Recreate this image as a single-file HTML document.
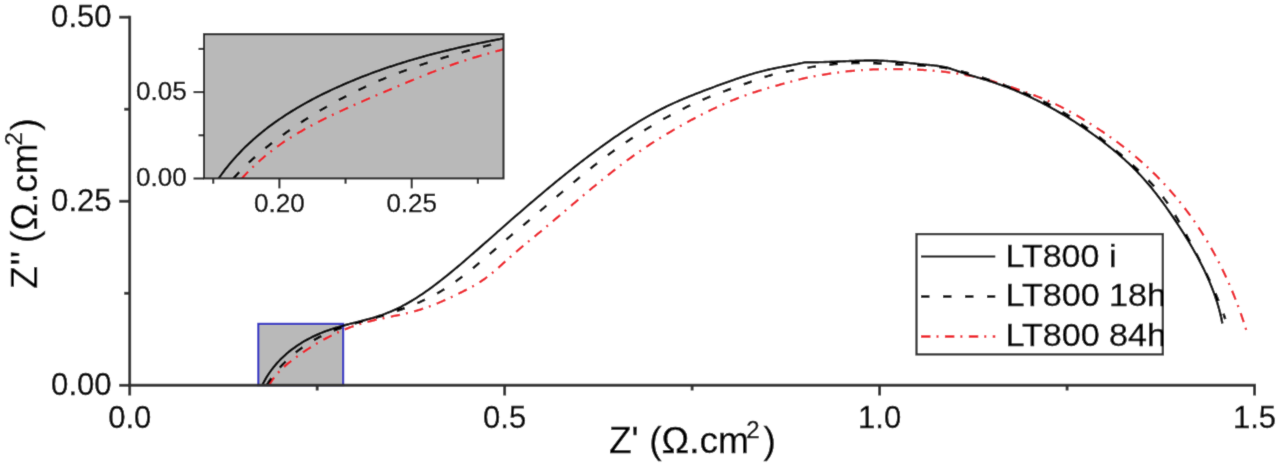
<!DOCTYPE html>
<html><head><meta charset="utf-8"><title>Impedance plot</title>
<style>html,body{margin:0;padding:0;background:#fff;}body{width:1280px;height:464px;overflow:hidden;}svg{display:block;}</style>
</head><body>
<svg width="1280" height="464" viewBox="0 0 1280 464">
<defs>
<filter id="bl" x="0" y="0" width="1280" height="464" filterUnits="userSpaceOnUse"><feConvolveMatrix order="3" kernelMatrix="0.0114 0.0841 0.0114 0.0841 0.6178 0.0841 0.0114 0.0841 0.0114" divisor="1" edgeMode="duplicate" preserveAlpha="true"/></filter>
<clipPath id="ic"><rect x="204.0" y="34.2" width="299.5" height="144.2"/></clipPath>
<clipPath id="mc"><rect x="129.7" y="0" width="1150" height="385.3"/></clipPath>
</defs>
<g filter="url(#bl)">
<rect x="0" y="0" width="1280" height="464" fill="#fff"/>
<!-- blue zoom box -->
<rect x="258.31" y="323.82" width="84.88" height="61.48" fill="#b9b9b9" stroke="#2f2fc4" stroke-width="2.1"/>
<!-- main curves -->
<g fill="none" stroke-linejoin="round" clip-path="url(#mc)">
<path d="M269.03 385.44 C269.29 384.99 270.05 383.63 270.58 382.75 C271.12 381.88 271.67 381.02 272.25 380.19 C272.82 379.35 273.41 378.53 274.01 377.73 C274.62 376.93 275.24 376.14 275.88 375.37 C276.51 374.60 277.16 373.85 277.83 373.11 C278.49 372.37 279.17 371.65 279.86 370.94 C280.55 370.22 281.26 369.53 281.97 368.84 C282.68 368.15 283.41 367.48 284.15 366.81 C284.88 366.15 285.63 365.49 286.38 364.85 C287.14 364.20 287.90 363.57 288.68 362.94 C289.45 362.31 290.23 361.69 291.01 361.08 C291.80 360.47 292.59 359.86 293.39 359.26 C294.19 358.66 294.99 358.07 295.80 357.48 C296.61 356.89 297.42 356.30 298.24 355.72 C299.05 355.13 299.87 354.55 300.69 353.98 C301.52 353.40 302.34 352.83 303.17 352.26 C304.00 351.70 304.84 351.13 305.67 350.57 C306.51 350.02 307.35 349.46 308.20 348.91 C309.04 348.36 309.89 347.82 310.74 347.28 C311.59 346.74 312.44 346.20 313.30 345.67 C314.16 345.14 315.02 344.62 315.88 344.10 C316.75 343.58 317.61 343.06 318.48 342.55 C319.35 342.04 320.23 341.54 321.10 341.04 C321.98 340.54 322.86 340.05 323.74 339.57 C324.63 339.08 325.51 338.60 326.40 338.13 C327.29 337.65 328.18 337.18 329.07 336.72 C329.97 336.26 330.87 335.81 331.77 335.36 C332.67 334.91 333.57 334.47 334.47 334.03 C335.38 333.60 336.29 333.17 337.20 332.75 C338.11 332.33 339.02 331.92 339.94 331.51 C340.85 331.11 341.77 330.71 342.69 330.32 C343.62 329.93 344.54 329.54 345.47 329.17 C346.39 328.79 347.32 328.42 348.25 328.07 C349.18 327.71 350.12 327.36 351.05 327.01 C351.99 326.67 352.93 326.34 353.87 326.01 C354.81 325.68 355.75 325.37 356.69 325.06 C357.64 324.75 358.59 324.45 359.54 324.16 C360.48 323.87 361.44 323.59 362.39 323.31 C363.34 323.04 364.30 322.77 365.25 322.51 C366.21 322.25 367.17 322.00 368.13 321.75 C369.09 321.51 370.05 321.27 371.01 321.03 C371.98 320.80 372.94 320.57 373.91 320.34 C374.87 320.11 375.84 319.89 376.81 319.68 C377.77 319.46 378.74 319.25 379.71 319.03 C380.68 318.82 381.65 318.61 382.63 318.41 C383.60 318.20 384.57 318.00 385.54 317.79 C386.52 317.59 387.49 317.39 388.46 317.19 C389.44 316.98 390.41 316.78 391.39 316.58 C392.36 316.38 393.34 316.18 394.31 315.97 C395.29 315.77 396.26 315.56 397.24 315.36 C398.21 315.15 399.19 314.94 400.16 314.73 C401.14 314.51 402.11 314.30 403.09 314.08 C404.06 313.86 405.04 313.63 406.01 313.41 C406.98 313.18 407.96 312.94 408.93 312.71 C409.90 312.47 410.87 312.22 411.84 311.97 C412.81 311.72 413.78 311.47 414.75 311.20 C415.72 310.94 416.69 310.67 417.65 310.39 C418.62 310.11 419.59 309.82 420.55 309.53 C421.51 309.23 422.48 308.93 423.44 308.61 C424.40 308.30 425.36 307.97 426.32 307.64 C427.27 307.30 428.23 306.96 429.18 306.61 C430.14 306.26 431.09 305.89 432.04 305.53 C432.99 305.16 433.94 304.78 434.89 304.40 C435.83 304.01 436.78 303.62 437.72 303.23 C438.66 302.83 439.60 302.43 440.54 302.02 C441.47 301.61 442.41 301.20 443.34 300.78 C444.27 300.37 445.20 299.95 446.13 299.52 C447.05 299.10 447.98 298.67 448.90 298.24 C449.82 297.81 450.73 297.38 451.65 296.94 C452.56 296.51 453.47 296.07 454.38 295.64 C455.29 295.20 456.19 294.76 457.10 294.33 C458.00 293.89 458.89 293.46 459.79 293.02 C460.68 292.58 461.57 292.15 462.46 291.71 C463.34 291.27 464.23 290.84 465.11 290.39 C465.98 289.95 466.86 289.51 467.73 289.06 C468.60 288.61 469.47 288.15 470.33 287.69 C471.19 287.23 472.05 286.76 472.90 286.28 C473.75 285.81 474.60 285.32 475.45 284.82 C476.29 284.33 477.13 283.82 477.97 283.30 C478.80 282.79 479.63 282.26 480.46 281.71 C481.28 281.17 482.10 280.61 482.92 280.05 C483.73 279.48 484.54 278.90 485.35 278.31 C486.15 277.73 486.95 277.13 487.75 276.52 C488.54 275.92 489.33 275.30 490.12 274.67 C490.91 274.05 491.69 273.42 492.46 272.78 C493.24 272.14 494.01 271.50 494.77 270.84 C495.54 270.19 496.30 269.54 497.06 268.87 C497.81 268.21 498.56 267.55 499.31 266.88 C500.05 266.21 500.79 265.53 501.53 264.86 C502.27 264.18 503.01 263.51 503.74 262.83 C504.48 262.15 505.21 261.47 505.95 260.80 C506.69 260.12 507.43 259.45 508.18 258.78 C508.92 258.11 509.67 257.44 510.42 256.77 C511.18 256.10 511.93 255.44 512.69 254.78 C513.45 254.12 514.22 253.46 514.98 252.80 C515.75 252.15 516.52 251.49 517.29 250.84 C518.06 250.18 518.84 249.53 519.61 248.88 C520.39 248.23 521.16 247.59 521.94 246.94 C522.72 246.29 523.50 245.65 524.28 245.00 C525.06 244.36 525.84 243.71 526.63 243.07 C527.41 242.43 528.19 241.78 528.97 241.14 C529.75 240.50 530.54 239.86 531.32 239.22 C532.10 238.58 532.88 237.94 533.66 237.29 C534.44 236.65 535.22 236.01 535.99 235.37 C536.77 234.73 537.55 234.09 538.32 233.44 C539.10 232.80 539.87 232.16 540.64 231.52 C541.41 230.87 542.18 230.23 542.95 229.59 C543.72 228.94 544.49 228.30 545.25 227.66 C546.02 227.01 546.79 226.37 547.55 225.73 C548.32 225.08 549.08 224.44 549.84 223.80 C550.61 223.15 551.37 222.51 552.13 221.86 C552.89 221.22 553.65 220.58 554.41 219.93 C555.17 219.29 555.93 218.64 556.69 218.00 C557.45 217.35 558.21 216.71 558.97 216.07 C559.73 215.42 560.48 214.78 561.24 214.13 C562.00 213.49 562.76 212.85 563.51 212.20 C564.27 211.56 565.03 210.92 565.78 210.27 C566.54 209.63 567.29 208.99 568.05 208.34 C568.81 207.70 569.56 207.06 570.32 206.41 C571.07 205.77 571.83 205.13 572.59 204.49 C573.34 203.84 574.10 203.20 574.86 202.56 C575.61 201.92 576.37 201.28 577.13 200.64 C577.89 199.99 578.64 199.35 579.40 198.71 C580.16 198.07 580.92 197.43 581.68 196.79 C582.44 196.15 583.20 195.51 583.96 194.87 C584.72 194.24 585.48 193.60 586.24 192.96 C587.00 192.32 587.77 191.68 588.53 191.05 C589.29 190.41 590.06 189.77 590.82 189.14 C591.59 188.50 592.35 187.87 593.12 187.23 C593.89 186.60 594.66 185.96 595.43 185.33 C596.20 184.69 596.97 184.06 597.74 183.43 C598.51 182.79 599.28 182.16 600.06 181.53 C600.83 180.90 601.61 180.27 602.39 179.64 C603.17 179.01 603.94 178.38 604.73 177.75 C605.51 177.12 606.29 176.49 607.07 175.87 C607.86 175.24 608.64 174.61 609.43 173.99 C610.22 173.36 611.00 172.74 611.79 172.11 C612.59 171.49 613.38 170.87 614.17 170.25 C614.97 169.63 615.76 169.01 616.56 168.39 C617.36 167.77 618.15 167.15 618.95 166.54 C619.76 165.92 620.56 165.31 621.36 164.70 C622.17 164.09 622.97 163.48 623.78 162.87 C624.58 162.26 625.39 161.66 626.20 161.05 C627.01 160.45 627.83 159.85 628.64 159.25 C629.45 158.65 630.27 158.06 631.08 157.46 C631.90 156.87 632.72 156.28 633.54 155.69 C634.36 155.10 635.18 154.52 636.00 153.94 C636.83 153.35 637.65 152.78 638.48 152.20 C639.30 151.62 640.13 151.05 640.96 150.48 C641.79 149.91 642.62 149.34 643.45 148.78 C644.28 148.22 645.12 147.66 645.95 147.10 C646.79 146.54 647.63 145.98 648.46 145.43 C649.30 144.88 650.14 144.33 650.98 143.78 C651.83 143.23 652.67 142.69 653.51 142.15 C654.36 141.61 655.20 141.07 656.05 140.53 C656.90 139.99 657.75 139.46 658.60 138.93 C659.45 138.40 660.30 137.87 661.15 137.34 C662.01 136.81 662.86 136.29 663.72 135.77 C664.58 135.25 665.43 134.73 666.29 134.21 C667.15 133.70 668.01 133.18 668.87 132.67 C669.74 132.16 670.60 131.65 671.47 131.14 C672.33 130.63 673.20 130.13 674.06 129.63 C674.93 129.12 675.80 128.62 676.67 128.12 C677.54 127.63 678.41 127.13 679.29 126.63 C680.16 126.14 681.04 125.65 681.91 125.16 C682.79 124.67 683.67 124.18 684.55 123.69 C685.42 123.21 686.30 122.72 687.19 122.24 C688.07 121.76 688.95 121.28 689.84 120.80 C690.72 120.32 691.61 119.85 692.49 119.37 C693.38 118.90 694.27 118.43 695.16 117.96 C696.05 117.49 696.94 117.03 697.83 116.56 C698.72 116.10 699.62 115.64 700.51 115.18 C701.41 114.72 702.31 114.26 703.20 113.81 C704.10 113.35 705.00 112.90 705.90 112.46 C706.80 112.01 707.70 111.56 708.61 111.12 C709.51 110.68 710.41 110.24 711.32 109.80 C712.22 109.37 713.13 108.94 714.04 108.51 C714.95 108.08 715.86 107.65 716.77 107.23 C717.68 106.81 718.59 106.39 719.50 105.97 C720.42 105.56 721.33 105.14 722.24 104.74 C723.16 104.33 724.08 103.92 725.00 103.52 C725.91 103.12 726.83 102.72 727.75 102.33 C728.67 101.94 729.60 101.55 730.52 101.16 C731.44 100.77 732.36 100.39 733.29 100.02 C734.22 99.64 735.14 99.27 736.07 98.90 C737.00 98.53 737.93 98.16 738.86 97.80 C739.79 97.44 740.72 97.09 741.65 96.74 C742.58 96.38 743.51 96.04 744.45 95.70 C745.38 95.35 746.32 95.02 747.26 94.68 C748.19 94.35 749.13 94.02 750.07 93.70 C751.01 93.38 751.95 93.06 752.89 92.75 C753.83 92.43 754.78 92.13 755.72 91.82 C756.66 91.52 757.61 91.22 758.55 90.92 C759.50 90.63 760.45 90.33 761.40 90.04 C762.34 89.75 763.29 89.47 764.24 89.18 C765.19 88.90 766.14 88.62 767.10 88.33 C768.05 88.05 769.00 87.78 769.96 87.50 C770.91 87.22 771.87 86.94 772.82 86.67 C773.78 86.39 774.74 86.12 775.70 85.84 C776.66 85.56 777.62 85.29 778.58 85.02 C779.54 84.74 780.50 84.47 781.46 84.20 C782.42 83.93 783.39 83.66 784.35 83.39 C785.32 83.12 786.28 82.85 787.25 82.59 C788.22 82.33 789.19 82.07 790.15 81.81 C791.12 81.55 792.09 81.30 793.06 81.05 C794.04 80.80 795.01 80.55 795.98 80.31 C796.95 80.07 797.93 79.83 798.90 79.59 C799.88 79.36 800.85 79.13 801.83 78.90 C802.80 78.68 803.78 78.45 804.76 78.24 C805.74 78.02 806.72 77.81 807.70 77.60 C808.68 77.39 809.66 77.18 810.64 76.98 C811.62 76.78 812.61 76.58 813.59 76.39 C814.57 76.20 815.56 76.01 816.54 75.83 C817.53 75.64 818.51 75.46 819.50 75.28 C820.48 75.11 821.47 74.94 822.46 74.77 C823.45 74.60 824.44 74.43 825.42 74.27 C826.41 74.11 827.40 73.96 828.39 73.80 C829.38 73.65 830.38 73.50 831.37 73.36 C832.36 73.21 833.35 73.07 834.34 72.94 C835.34 72.80 836.33 72.66 837.33 72.54 C838.32 72.41 839.31 72.28 840.31 72.16 C841.30 72.04 842.30 71.92 843.30 71.80 C844.29 71.69 845.29 71.58 846.29 71.47 C847.28 71.37 848.28 71.26 849.28 71.16 C850.28 71.06 851.27 70.97 852.27 70.88 C853.27 70.78 854.27 70.69 855.27 70.61 C856.27 70.52 857.27 70.44 858.27 70.37 C859.27 70.29 860.27 70.21 861.27 70.14 C862.27 70.07 863.27 70.01 864.27 69.94 C865.28 69.88 866.28 69.82 867.28 69.76 C868.28 69.70 869.28 69.65 870.29 69.60 C871.29 69.55 872.29 69.50 873.29 69.46 C874.30 69.42 875.30 69.38 876.30 69.34 C877.30 69.31 878.31 69.27 879.31 69.24 C880.31 69.21 881.32 69.19 882.32 69.17 C883.32 69.14 884.33 69.12 885.33 69.11 C886.34 69.09 887.34 69.08 888.34 69.07 C889.35 69.06 890.35 69.05 891.35 69.05 C892.36 69.04 893.36 69.04 894.36 69.04 C895.37 69.05 896.37 69.05 897.38 69.06 C898.38 69.07 899.38 69.08 900.39 69.10 C901.39 69.11 902.39 69.13 903.40 69.15 C904.40 69.17 905.40 69.20 906.40 69.23 C907.41 69.25 908.41 69.28 909.41 69.32 C910.41 69.35 911.42 69.39 912.42 69.43 C913.42 69.46 914.42 69.51 915.42 69.55 C916.43 69.60 917.43 69.65 918.43 69.70 C919.43 69.75 920.43 69.80 921.43 69.86 C922.43 69.92 923.43 69.98 924.43 70.04 C925.43 70.10 926.43 70.17 927.43 70.24 C928.43 70.31 929.43 70.39 930.43 70.46 C931.42 70.54 932.42 70.62 933.42 70.71 C934.42 70.79 935.41 70.88 936.41 70.97 C937.41 71.06 938.40 71.16 939.40 71.26 C940.39 71.36 941.39 71.46 942.38 71.57 C943.38 71.68 944.37 71.79 945.36 71.91 C946.36 72.02 947.35 72.14 948.34 72.27 C949.34 72.39 950.33 72.52 951.32 72.66 C952.31 72.79 953.30 72.93 954.29 73.07 C955.28 73.21 956.27 73.36 957.26 73.51 C958.25 73.66 959.23 73.82 960.22 73.98 C961.21 74.14 962.19 74.31 963.18 74.48 C964.16 74.65 965.15 74.82 966.13 75.00 C967.12 75.18 968.10 75.37 969.08 75.56 C970.07 75.75 971.05 75.95 972.03 76.15 C973.01 76.35 973.99 76.56 974.97 76.77 C975.95 76.98 976.93 77.20 977.90 77.42 C978.88 77.65 979.86 77.87 980.83 78.11 C981.81 78.34 982.78 78.58 983.76 78.83 C984.73 79.07 985.70 79.33 986.67 79.58 C987.65 79.84 988.62 80.10 989.59 80.37 C990.56 80.64 991.52 80.91 992.49 81.19 C993.46 81.46 994.43 81.74 995.39 82.03 C996.36 82.32 997.32 82.61 998.28 82.90 C999.25 83.20 1000.21 83.50 1001.17 83.80 C1002.13 84.10 1003.09 84.41 1004.05 84.72 C1005.01 85.02 1005.97 85.34 1006.92 85.65 C1007.88 85.97 1008.83 86.29 1009.79 86.61 C1010.74 86.93 1011.69 87.25 1012.65 87.58 C1013.60 87.91 1014.55 88.24 1015.50 88.57 C1016.44 88.90 1017.39 89.23 1018.34 89.56 C1019.28 89.90 1020.23 90.23 1021.17 90.57 C1022.12 90.91 1023.06 91.25 1024.00 91.59 C1024.94 91.93 1025.88 92.27 1026.82 92.61 C1027.75 92.95 1028.69 93.29 1029.63 93.63 C1030.56 93.97 1031.49 94.31 1032.43 94.66 C1033.36 95.00 1034.29 95.35 1035.22 95.69 C1036.15 96.04 1037.07 96.39 1038.00 96.74 C1038.93 97.10 1039.85 97.45 1040.77 97.81 C1041.70 98.18 1042.62 98.54 1043.54 98.91 C1044.46 99.28 1045.38 99.65 1046.29 100.04 C1047.21 100.42 1048.12 100.80 1049.04 101.20 C1049.95 101.59 1050.86 101.99 1051.77 102.40 C1052.68 102.81 1053.59 103.23 1054.49 103.65 C1055.40 104.08 1056.31 104.51 1057.21 104.95 C1058.11 105.39 1059.01 105.83 1059.91 106.29 C1060.81 106.74 1061.71 107.20 1062.60 107.66 C1063.50 108.13 1064.39 108.60 1065.28 109.07 C1066.18 109.55 1067.07 110.03 1067.95 110.51 C1068.84 111.00 1069.73 111.49 1070.61 111.98 C1071.50 112.48 1072.38 112.97 1073.26 113.48 C1074.14 113.98 1075.02 114.48 1075.89 114.99 C1076.77 115.50 1077.64 116.01 1078.52 116.53 C1079.39 117.04 1080.26 117.56 1081.13 118.08 C1082.00 118.60 1082.86 119.13 1083.73 119.66 C1084.59 120.18 1085.45 120.71 1086.31 121.25 C1087.17 121.78 1088.03 122.31 1088.89 122.85 C1089.74 123.39 1090.59 123.93 1091.45 124.47 C1092.30 125.01 1093.15 125.56 1093.99 126.10 C1094.84 126.65 1095.68 127.20 1096.53 127.75 C1097.37 128.30 1098.21 128.85 1099.05 129.40 C1099.89 129.96 1100.72 130.51 1101.55 131.07 C1102.39 131.63 1103.22 132.19 1104.05 132.76 C1104.88 133.32 1105.70 133.89 1106.53 134.46 C1107.35 135.02 1108.17 135.59 1108.99 136.17 C1109.81 136.74 1110.63 137.32 1111.44 137.90 C1112.25 138.48 1113.07 139.06 1113.87 139.64 C1114.68 140.23 1115.49 140.82 1116.29 141.41 C1117.10 142.00 1117.90 142.59 1118.70 143.19 C1119.50 143.78 1120.30 144.38 1121.09 144.99 C1121.88 145.59 1122.68 146.19 1123.46 146.80 C1124.25 147.41 1125.04 148.03 1125.82 148.64 C1126.61 149.26 1127.39 149.88 1128.17 150.50 C1128.94 151.12 1129.72 151.75 1130.49 152.38 C1131.27 153.01 1132.04 153.64 1132.80 154.28 C1133.57 154.91 1134.34 155.55 1135.10 156.20 C1135.86 156.84 1136.62 157.49 1137.38 158.14 C1138.13 158.79 1138.89 159.44 1139.64 160.10 C1140.39 160.76 1141.14 161.42 1141.88 162.08 C1142.63 162.75 1143.37 163.42 1144.11 164.09 C1144.85 164.76 1145.59 165.43 1146.32 166.11 C1147.05 166.79 1147.78 167.47 1148.51 168.16 C1149.24 168.84 1149.96 169.53 1150.69 170.22 C1151.41 170.91 1152.13 171.61 1152.84 172.30 C1153.56 173.00 1154.27 173.70 1154.98 174.41 C1155.69 175.11 1156.40 175.82 1157.10 176.53 C1157.80 177.24 1158.50 177.96 1159.20 178.67 C1159.90 179.39 1160.59 180.11 1161.28 180.83 C1161.98 181.56 1162.66 182.28 1163.35 183.01 C1164.03 183.74 1164.71 184.48 1165.39 185.21 C1166.07 185.95 1166.75 186.69 1167.42 187.43 C1168.09 188.17 1168.76 188.92 1169.42 189.66 C1170.09 190.41 1170.75 191.16 1171.41 191.92 C1172.07 192.67 1172.72 193.43 1173.38 194.19 C1174.03 194.95 1174.68 195.71 1175.32 196.48 C1175.97 197.24 1176.61 198.01 1177.25 198.78 C1177.89 199.55 1178.52 200.33 1179.16 201.11 C1179.79 201.88 1180.42 202.66 1181.04 203.45 C1181.67 204.23 1182.29 205.02 1182.90 205.80 C1183.52 206.59 1184.14 207.38 1184.75 208.18 C1185.36 208.97 1185.97 209.77 1186.57 210.57 C1187.17 211.37 1187.77 212.17 1188.37 212.97 C1188.97 213.78 1189.56 214.59 1190.15 215.40 C1190.74 216.21 1191.33 217.02 1191.91 217.84 C1192.49 218.65 1193.07 219.47 1193.64 220.29 C1194.22 221.11 1194.79 221.94 1195.36 222.76 C1195.92 223.59 1196.49 224.42 1197.05 225.25 C1197.61 226.08 1198.16 226.91 1198.72 227.75 C1199.27 228.58 1199.82 229.42 1200.36 230.26 C1200.91 231.10 1201.45 231.95 1201.99 232.79 C1202.53 233.64 1203.06 234.49 1203.59 235.34 C1204.12 236.19 1204.65 237.04 1205.17 237.89 C1205.70 238.75 1206.22 239.61 1206.73 240.46 C1207.25 241.32 1207.76 242.19 1208.27 243.05 C1208.78 243.91 1209.29 244.78 1209.79 245.65 C1210.29 246.51 1210.79 247.38 1211.28 248.26 C1211.78 249.13 1212.27 250.00 1212.76 250.88 C1213.25 251.76 1213.73 252.63 1214.21 253.51 C1214.69 254.39 1215.17 255.28 1215.64 256.16 C1216.12 257.04 1216.59 257.93 1217.05 258.82 C1217.52 259.71 1217.98 260.60 1218.44 261.49 C1218.90 262.38 1219.36 263.27 1219.81 264.17 C1220.26 265.06 1220.71 265.96 1221.16 266.86 C1221.60 267.76 1222.05 268.66 1222.49 269.56 C1222.92 270.46 1223.36 271.37 1223.79 272.27 C1224.22 273.18 1224.65 274.09 1225.08 274.99 C1225.50 275.90 1225.92 276.81 1226.34 277.72 C1226.76 278.64 1227.17 279.55 1227.59 280.47 C1228.00 281.38 1228.41 282.30 1228.81 283.21 C1229.21 284.13 1229.62 285.05 1230.01 285.97 C1230.41 286.89 1230.81 287.81 1231.20 288.74 C1231.59 289.66 1231.98 290.59 1232.36 291.51 C1232.74 292.44 1233.13 293.37 1233.50 294.29 C1233.88 295.22 1234.26 296.15 1234.63 297.08 C1235.00 298.02 1235.37 298.95 1235.73 299.88 C1236.09 300.81 1236.46 301.75 1236.81 302.69 C1237.17 303.62 1237.53 304.56 1237.88 305.50 C1238.23 306.43 1238.58 307.37 1238.92 308.31 C1239.27 309.25 1239.61 310.19 1239.95 311.14 C1240.28 312.08 1240.62 313.02 1240.95 313.96 C1241.28 314.91 1241.61 315.85 1241.94 316.80 C1242.26 317.74 1242.58 318.69 1242.90 319.64 C1243.22 320.59 1243.54 321.53 1243.85 322.48 C1244.16 323.43 1244.47 324.38 1244.78 325.33 C1245.08 326.28 1245.38 327.23 1245.68 328.18 C1245.98 329.14 1246.42 330.57 1246.57 331.04" stroke="#ee1c25" stroke-width="2.3" stroke-dasharray="9.5 6 2 6.4"/>
<path d="M266.65 385.21 C266.92 384.79 267.71 383.52 268.25 382.68 C268.80 381.84 269.36 381.01 269.92 380.19 C270.49 379.36 271.06 378.55 271.65 377.74 C272.23 376.93 272.83 376.12 273.43 375.33 C274.04 374.53 274.65 373.74 275.28 372.96 C275.90 372.18 276.53 371.41 277.17 370.64 C277.81 369.87 278.47 369.11 279.13 368.36 C279.78 367.61 280.45 366.87 281.13 366.13 C281.81 365.39 282.49 364.66 283.19 363.94 C283.88 363.22 284.58 362.51 285.29 361.80 C286.00 361.10 286.72 360.40 287.45 359.71 C288.17 359.02 288.91 358.34 289.65 357.67 C290.39 356.99 291.14 356.33 291.90 355.67 C292.66 355.02 293.42 354.37 294.19 353.73 C294.96 353.09 295.74 352.46 296.53 351.83 C297.32 351.21 298.11 350.60 298.91 349.99 C299.71 349.39 300.52 348.79 301.33 348.20 C302.14 347.62 302.96 347.04 303.79 346.47 C304.62 345.90 305.45 345.33 306.29 344.78 C307.13 344.23 307.97 343.69 308.82 343.15 C309.67 342.62 310.53 342.09 311.39 341.57 C312.25 341.06 313.11 340.55 313.99 340.05 C314.86 339.55 315.73 339.07 316.61 338.59 C317.50 338.11 318.38 337.63 319.27 337.17 C320.16 336.71 321.06 336.26 321.96 335.82 C322.86 335.37 323.76 334.94 324.67 334.51 C325.57 334.09 326.48 333.67 327.40 333.27 C328.31 332.86 329.23 332.46 330.15 332.07 C331.07 331.68 332.00 331.30 332.92 330.93 C333.85 330.56 334.78 330.19 335.72 329.84 C336.65 329.48 337.59 329.13 338.52 328.79 C339.46 328.45 340.40 328.11 341.35 327.79 C342.29 327.46 343.23 327.14 344.18 326.83 C345.13 326.52 346.08 326.21 347.03 325.91 C347.98 325.61 348.93 325.32 349.88 325.03 C350.84 324.74 351.79 324.46 352.75 324.18 C353.70 323.90 354.66 323.63 355.62 323.36 C356.58 323.09 357.54 322.82 358.50 322.55 C359.46 322.28 360.42 322.02 361.38 321.75 C362.34 321.49 363.30 321.23 364.27 320.97 C365.23 320.70 366.19 320.44 367.16 320.17 C368.12 319.91 369.08 319.65 370.05 319.38 C371.01 319.11 371.98 318.84 372.94 318.57 C373.91 318.29 374.87 318.02 375.83 317.74 C376.80 317.46 377.76 317.17 378.73 316.88 C379.69 316.59 380.65 316.30 381.62 316.00 C382.58 315.71 383.54 315.41 384.50 315.10 C385.46 314.80 386.42 314.49 387.38 314.18 C388.34 313.87 389.30 313.55 390.26 313.23 C391.22 312.91 392.17 312.59 393.13 312.27 C394.08 311.94 395.04 311.62 395.99 311.28 C396.94 310.95 397.89 310.62 398.84 310.28 C399.79 309.95 400.74 309.61 401.68 309.27 C402.63 308.92 403.57 308.58 404.52 308.23 C405.46 307.88 406.40 307.53 407.34 307.17 C408.27 306.81 409.21 306.45 410.14 306.09 C411.08 305.72 412.01 305.35 412.93 304.97 C413.86 304.60 414.79 304.22 415.71 303.83 C416.64 303.45 417.56 303.05 418.47 302.66 C419.39 302.26 420.31 301.85 421.22 301.44 C422.13 301.03 423.04 300.62 423.94 300.19 C424.85 299.77 425.75 299.34 426.65 298.90 C427.55 298.46 428.44 298.01 429.33 297.56 C430.23 297.11 431.11 296.65 432.00 296.18 C432.88 295.71 433.76 295.24 434.64 294.76 C435.52 294.28 436.39 293.79 437.26 293.30 C438.13 292.80 438.99 292.30 439.85 291.80 C440.71 291.29 441.57 290.78 442.42 290.26 C443.28 289.74 444.12 289.21 444.97 288.68 C445.81 288.15 446.65 287.61 447.48 287.07 C448.32 286.53 449.15 285.98 449.98 285.43 C450.80 284.87 451.63 284.31 452.44 283.75 C453.26 283.18 454.08 282.61 454.89 282.04 C455.70 281.46 456.51 280.89 457.32 280.30 C458.12 279.72 458.93 279.13 459.72 278.53 C460.52 277.94 461.32 277.34 462.12 276.74 C462.91 276.14 463.70 275.53 464.49 274.92 C465.28 274.31 466.07 273.70 466.85 273.08 C467.64 272.47 468.42 271.84 469.20 271.22 C469.98 270.59 470.76 269.97 471.54 269.33 C472.32 268.70 473.09 268.07 473.87 267.43 C474.65 266.79 475.42 266.15 476.19 265.51 C476.97 264.87 477.74 264.22 478.51 263.57 C479.28 262.92 480.05 262.27 480.82 261.62 C481.59 260.97 482.36 260.31 483.13 259.66 C483.90 259.00 484.67 258.34 485.44 257.68 C486.21 257.02 486.98 256.36 487.74 255.69 C488.51 255.03 489.28 254.37 490.05 253.70 C490.81 253.04 491.58 252.37 492.35 251.71 C493.11 251.04 493.88 250.38 494.64 249.71 C495.41 249.05 496.17 248.38 496.94 247.71 C497.70 247.05 498.46 246.38 499.23 245.72 C499.99 245.06 500.75 244.39 501.52 243.73 C502.28 243.07 503.04 242.41 503.80 241.75 C504.56 241.09 505.33 240.43 506.09 239.77 C506.85 239.11 507.61 238.46 508.37 237.81 C509.13 237.15 509.89 236.50 510.65 235.86 C511.41 235.21 512.17 234.56 512.93 233.92 C513.69 233.28 514.45 232.64 515.21 232.00 C515.97 231.36 516.72 230.73 517.48 230.09 C518.24 229.46 519.00 228.83 519.76 228.20 C520.51 227.57 521.27 226.94 522.03 226.31 C522.79 225.68 523.54 225.05 524.30 224.42 C525.06 223.79 525.81 223.16 526.57 222.53 C527.33 221.89 528.08 221.26 528.84 220.63 C529.59 219.99 530.35 219.36 531.11 218.72 C531.86 218.08 532.62 217.44 533.37 216.80 C534.13 216.16 534.88 215.52 535.64 214.87 C536.39 214.23 537.15 213.58 537.90 212.94 C538.66 212.29 539.42 211.64 540.17 210.99 C540.93 210.35 541.68 209.70 542.44 209.05 C543.19 208.39 543.95 207.74 544.71 207.09 C545.46 206.44 546.22 205.78 546.98 205.13 C547.73 204.48 548.49 203.82 549.25 203.17 C550.01 202.51 550.77 201.86 551.52 201.20 C552.28 200.55 553.04 199.89 553.80 199.24 C554.56 198.58 555.32 197.92 556.08 197.27 C556.84 196.61 557.60 195.96 558.37 195.30 C559.13 194.65 559.89 193.99 560.65 193.33 C561.42 192.68 562.18 192.02 562.95 191.37 C563.71 190.72 564.48 190.06 565.24 189.41 C566.01 188.76 566.78 188.10 567.55 187.45 C568.32 186.80 569.08 186.15 569.86 185.50 C570.63 184.85 571.40 184.20 572.17 183.55 C572.94 182.90 573.71 182.25 574.49 181.61 C575.26 180.96 576.04 180.31 576.81 179.67 C577.59 179.02 578.36 178.38 579.14 177.74 C579.92 177.10 580.70 176.45 581.48 175.81 C582.26 175.17 583.04 174.54 583.82 173.90 C584.60 173.26 585.38 172.63 586.17 171.99 C586.95 171.36 587.74 170.73 588.52 170.09 C589.31 169.46 590.09 168.83 590.88 168.21 C591.67 167.58 592.46 166.95 593.25 166.33 C594.04 165.70 594.83 165.08 595.62 164.46 C596.42 163.84 597.21 163.22 598.01 162.61 C598.80 161.99 599.60 161.37 600.40 160.76 C601.19 160.15 601.99 159.54 602.79 158.93 C603.59 158.32 604.39 157.72 605.20 157.11 C606.00 156.51 606.80 155.91 607.61 155.31 C608.41 154.71 609.22 154.11 610.03 153.52 C610.83 152.92 611.64 152.33 612.45 151.74 C613.26 151.16 614.07 150.57 614.89 149.99 C615.70 149.40 616.52 148.82 617.33 148.24 C618.15 147.66 618.96 147.09 619.78 146.51 C620.60 145.94 621.42 145.37 622.24 144.80 C623.06 144.23 623.89 143.67 624.71 143.11 C625.54 142.54 626.36 141.98 627.19 141.42 C628.02 140.87 628.85 140.31 629.68 139.76 C630.51 139.20 631.34 138.65 632.17 138.11 C633.01 137.56 633.84 137.01 634.68 136.47 C635.51 135.93 636.35 135.39 637.19 134.85 C638.03 134.31 638.87 133.77 639.72 133.24 C640.56 132.71 641.40 132.18 642.25 131.65 C643.10 131.12 643.95 130.59 644.79 130.07 C645.64 129.55 646.50 129.03 647.35 128.51 C648.20 127.99 649.06 127.47 649.91 126.96 C650.77 126.44 651.63 125.93 652.49 125.42 C653.35 124.91 654.21 124.41 655.07 123.90 C655.94 123.40 656.80 122.90 657.67 122.40 C658.53 121.90 659.40 121.40 660.27 120.91 C661.14 120.41 662.01 119.92 662.89 119.43 C663.76 118.94 664.64 118.46 665.51 117.97 C666.39 117.49 667.27 117.01 668.15 116.53 C669.03 116.05 669.91 115.58 670.79 115.11 C671.67 114.63 672.56 114.17 673.44 113.70 C674.33 113.23 675.22 112.77 676.10 112.31 C676.99 111.85 677.88 111.39 678.78 110.94 C679.67 110.49 680.56 110.04 681.46 109.59 C682.35 109.14 683.25 108.70 684.15 108.26 C685.04 107.82 685.94 107.38 686.84 106.94 C687.75 106.51 688.65 106.08 689.55 105.65 C690.46 105.22 691.36 104.80 692.27 104.38 C693.17 103.96 694.08 103.54 694.99 103.13 C695.90 102.72 696.81 102.31 697.72 101.90 C698.63 101.50 699.55 101.09 700.46 100.69 C701.38 100.30 702.29 99.90 703.21 99.51 C704.13 99.12 705.05 98.73 705.97 98.35 C706.89 97.97 707.81 97.59 708.73 97.21 C709.65 96.84 710.58 96.46 711.50 96.10 C712.43 95.73 713.35 95.36 714.28 95.00 C715.21 94.64 716.14 94.28 717.07 93.93 C718.00 93.57 718.93 93.22 719.86 92.87 C720.80 92.52 721.73 92.17 722.66 91.83 C723.60 91.48 724.54 91.14 725.47 90.80 C726.41 90.45 727.35 90.11 728.29 89.78 C729.23 89.44 730.17 89.10 731.11 88.76 C732.05 88.43 733.00 88.09 733.94 87.76 C734.88 87.42 735.83 87.09 736.77 86.75 C737.72 86.42 738.67 86.08 739.62 85.75 C740.56 85.41 741.51 85.08 742.46 84.74 C743.42 84.41 744.37 84.07 745.32 83.74 C746.27 83.40 747.23 83.06 748.18 82.72 C749.13 82.38 750.09 82.04 751.05 81.70 C752.00 81.36 752.96 81.02 753.92 80.68 C754.88 80.34 755.84 79.99 756.80 79.66 C757.76 79.32 758.72 78.98 759.68 78.65 C760.64 78.32 761.61 78.00 762.57 77.68 C763.53 77.36 764.50 77.04 765.47 76.74 C766.43 76.43 767.40 76.13 768.37 75.85 C769.33 75.56 770.30 75.28 771.27 75.02 C772.24 74.75 773.21 74.50 774.18 74.25 C775.15 74.01 776.12 73.78 777.10 73.55 C778.07 73.32 779.04 73.11 780.02 72.90 C780.99 72.69 781.96 72.48 782.94 72.29 C783.92 72.09 784.89 71.89 785.87 71.70 C786.85 71.51 787.82 71.33 788.80 71.14 C789.78 70.96 790.76 70.77 791.74 70.59 C792.72 70.41 793.70 70.22 794.68 70.04 C795.66 69.86 796.65 69.67 797.63 69.49 C798.61 69.30 799.59 69.12 800.58 68.94 C801.56 68.76 802.55 68.58 803.53 68.40 C804.52 68.22 805.50 68.04 806.49 67.87 C807.48 67.70 808.46 67.52 809.45 67.36 C810.44 67.19 811.43 67.03 812.41 66.87 C813.40 66.71 814.39 66.55 815.38 66.40 C816.37 66.25 817.36 66.11 818.35 65.97 C819.34 65.83 820.34 65.69 821.33 65.56 C822.32 65.43 823.31 65.30 824.30 65.18 C825.30 65.06 826.29 64.95 827.28 64.83 C828.28 64.72 829.27 64.62 830.27 64.52 C831.26 64.41 832.26 64.32 833.25 64.23 C834.25 64.14 835.24 64.05 836.24 63.97 C837.24 63.89 838.23 63.81 839.23 63.74 C840.23 63.67 841.22 63.60 842.22 63.54 C843.22 63.48 844.22 63.43 845.22 63.38 C846.21 63.33 847.21 63.28 848.21 63.24 C849.21 63.20 850.21 63.16 851.21 63.13 C852.21 63.10 853.21 63.08 854.21 63.06 C855.21 63.04 856.21 63.02 857.21 63.01 C858.21 63.00 859.21 63.00 860.21 63.00 C861.22 63.00 862.22 63.00 863.22 63.01 C864.22 63.02 865.22 63.04 866.22 63.05 C867.23 63.07 868.23 63.09 869.23 63.11 C870.23 63.14 871.23 63.17 872.24 63.20 C873.24 63.23 874.24 63.26 875.24 63.30 C876.25 63.33 877.25 63.37 878.25 63.41 C879.25 63.45 880.26 63.49 881.26 63.54 C882.26 63.58 883.26 63.63 884.27 63.68 C885.27 63.72 886.27 63.77 887.27 63.82 C888.28 63.87 889.28 63.92 890.28 63.97 C891.28 64.02 892.28 64.07 893.29 64.12 C894.29 64.17 895.29 64.22 896.29 64.27 C897.29 64.32 898.29 64.37 899.29 64.42 C900.29 64.47 901.29 64.51 902.30 64.56 C903.30 64.61 904.30 64.65 905.30 64.70 C906.30 64.74 907.30 64.79 908.29 64.83 C909.29 64.88 910.29 64.92 911.29 64.97 C912.29 65.01 913.29 65.06 914.29 65.11 C915.28 65.16 916.28 65.21 917.28 65.26 C918.27 65.32 919.27 65.37 920.27 65.43 C921.26 65.49 922.26 65.56 923.25 65.62 C924.25 65.69 925.24 65.76 926.24 65.84 C927.23 65.91 928.22 65.99 929.22 66.08 C930.21 66.17 931.20 66.26 932.19 66.35 C933.18 66.45 934.17 66.55 935.17 66.66 C936.16 66.77 937.15 66.88 938.13 67.01 C939.12 67.13 940.11 67.26 941.10 67.39 C942.09 67.53 943.07 67.67 944.06 67.82 C945.05 67.97 946.03 68.13 947.02 68.30 C948.00 68.47 948.98 68.64 949.97 68.83 C950.95 69.01 951.93 69.21 952.91 69.41 C953.90 69.61 954.88 69.82 955.86 70.04 C956.83 70.26 957.81 70.49 958.79 70.72 C959.77 70.96 960.75 71.20 961.72 71.45 C962.70 71.69 963.67 71.95 964.65 72.21 C965.62 72.47 966.59 72.74 967.57 73.01 C968.54 73.28 969.51 73.56 970.48 73.84 C971.45 74.13 972.42 74.42 973.38 74.71 C974.35 75.00 975.32 75.30 976.28 75.60 C977.25 75.90 978.21 76.21 979.18 76.51 C980.14 76.82 981.10 77.13 982.06 77.45 C983.02 77.76 983.98 78.08 984.94 78.40 C985.90 78.72 986.86 79.04 987.81 79.36 C988.77 79.69 989.72 80.01 990.68 80.34 C991.63 80.66 992.58 80.99 993.53 81.32 C994.48 81.65 995.43 81.98 996.38 82.31 C997.33 82.64 998.28 82.98 999.22 83.31 C1000.17 83.65 1001.11 83.99 1002.05 84.33 C1002.99 84.67 1003.94 85.01 1004.88 85.35 C1005.81 85.69 1006.75 86.04 1007.69 86.39 C1008.63 86.73 1009.56 87.08 1010.49 87.44 C1011.43 87.79 1012.36 88.14 1013.29 88.50 C1014.22 88.85 1015.15 89.21 1016.08 89.57 C1017.00 89.93 1017.93 90.30 1018.85 90.66 C1019.78 91.03 1020.70 91.40 1021.62 91.77 C1022.54 92.14 1023.46 92.51 1024.38 92.89 C1025.29 93.27 1026.21 93.65 1027.12 94.03 C1028.04 94.42 1028.95 94.81 1029.86 95.20 C1030.77 95.59 1031.68 95.98 1032.58 96.38 C1033.49 96.78 1034.40 97.19 1035.30 97.60 C1036.20 98.00 1037.11 98.42 1038.00 98.83 C1038.90 99.25 1039.80 99.67 1040.70 100.10 C1041.59 100.52 1042.49 100.96 1043.38 101.39 C1044.27 101.83 1045.16 102.27 1046.05 102.72 C1046.94 103.16 1047.83 103.62 1048.71 104.08 C1049.60 104.53 1050.48 105.00 1051.36 105.47 C1052.24 105.94 1053.12 106.41 1054.00 106.89 C1054.87 107.38 1055.75 107.86 1056.62 108.36 C1057.49 108.85 1058.36 109.35 1059.23 109.86 C1060.10 110.36 1060.97 110.87 1061.83 111.39 C1062.70 111.90 1063.56 112.42 1064.42 112.95 C1065.28 113.47 1066.14 114.01 1067.00 114.54 C1067.85 115.07 1068.71 115.61 1069.56 116.16 C1070.41 116.70 1071.26 117.25 1072.11 117.80 C1072.96 118.35 1073.80 118.91 1074.65 119.47 C1075.49 120.03 1076.33 120.59 1077.17 121.15 C1078.01 121.72 1078.84 122.29 1079.68 122.86 C1080.51 123.43 1081.35 124.01 1082.18 124.58 C1083.01 125.16 1083.83 125.74 1084.66 126.32 C1085.48 126.91 1086.31 127.49 1087.13 128.08 C1087.95 128.67 1088.77 129.25 1089.58 129.85 C1090.40 130.44 1091.21 131.03 1092.02 131.63 C1092.83 132.22 1093.64 132.82 1094.45 133.42 C1095.26 134.02 1096.06 134.63 1096.87 135.23 C1097.67 135.84 1098.47 136.44 1099.27 137.05 C1100.06 137.66 1100.86 138.27 1101.65 138.89 C1102.45 139.50 1103.24 140.12 1104.03 140.74 C1104.81 141.35 1105.60 141.98 1106.39 142.60 C1107.17 143.22 1107.95 143.85 1108.73 144.47 C1109.51 145.10 1110.29 145.73 1111.07 146.36 C1111.84 146.99 1112.61 147.62 1113.39 148.26 C1114.16 148.90 1114.93 149.53 1115.69 150.17 C1116.46 150.81 1117.22 151.45 1117.99 152.10 C1118.75 152.74 1119.51 153.39 1120.27 154.04 C1121.02 154.69 1121.78 155.34 1122.53 155.99 C1123.29 156.64 1124.04 157.29 1124.79 157.95 C1125.54 158.61 1126.28 159.27 1127.03 159.93 C1127.77 160.59 1128.52 161.25 1129.26 161.91 C1130.00 162.58 1130.74 163.24 1131.47 163.91 C1132.21 164.58 1132.94 165.25 1133.68 165.93 C1134.41 166.60 1135.14 167.27 1135.87 167.95 C1136.59 168.63 1137.32 169.30 1138.04 169.99 C1138.76 170.67 1139.48 171.35 1140.20 172.04 C1140.92 172.73 1141.63 173.41 1142.34 174.11 C1143.05 174.80 1143.76 175.50 1144.47 176.20 C1145.17 176.90 1145.87 177.60 1146.57 178.31 C1147.26 179.02 1147.96 179.73 1148.65 180.44 C1149.33 181.16 1150.02 181.88 1150.70 182.60 C1151.38 183.33 1152.05 184.06 1152.72 184.79 C1153.39 185.52 1154.06 186.26 1154.72 187.01 C1155.38 187.75 1156.03 188.50 1156.68 189.26 C1157.33 190.01 1157.98 190.77 1158.61 191.54 C1159.25 192.31 1159.89 193.08 1160.51 193.86 C1161.14 194.64 1161.76 195.43 1162.37 196.22 C1162.99 197.01 1163.59 197.81 1164.19 198.62 C1164.79 199.42 1165.39 200.24 1165.97 201.06 C1166.56 201.88 1167.14 202.70 1167.72 203.53 C1168.29 204.36 1168.86 205.20 1169.43 206.04 C1169.99 206.89 1170.55 207.73 1171.10 208.58 C1171.65 209.44 1172.20 210.29 1172.74 211.15 C1173.28 212.01 1173.82 212.88 1174.35 213.74 C1174.88 214.61 1175.41 215.48 1175.93 216.35 C1176.46 217.22 1176.97 218.10 1177.49 218.98 C1178.00 219.85 1178.51 220.73 1179.02 221.61 C1179.52 222.50 1180.03 223.38 1180.52 224.26 C1181.02 225.14 1181.52 226.03 1182.01 226.91 C1182.50 227.80 1182.99 228.68 1183.48 229.56 C1183.96 230.45 1184.44 231.33 1184.92 232.21 C1185.40 233.10 1185.88 233.98 1186.35 234.86 C1186.83 235.74 1187.30 236.62 1187.77 237.49 C1188.24 238.37 1188.71 239.24 1189.18 240.12 C1189.64 240.99 1190.11 241.86 1190.57 242.73 C1191.03 243.60 1191.49 244.48 1191.96 245.35 C1192.42 246.22 1192.87 247.09 1193.33 247.96 C1193.79 248.83 1194.25 249.70 1194.71 250.58 C1195.16 251.45 1195.62 252.33 1196.08 253.21 C1196.53 254.08 1196.99 254.96 1197.45 255.84 C1197.90 256.73 1198.36 257.61 1198.81 258.49 C1199.27 259.38 1199.72 260.27 1200.17 261.16 C1200.63 262.05 1201.08 262.94 1201.53 263.83 C1201.98 264.73 1202.43 265.62 1202.88 266.52 C1203.33 267.42 1203.78 268.32 1204.22 269.22 C1204.67 270.12 1205.11 271.02 1205.56 271.92 C1206.00 272.82 1206.44 273.73 1206.87 274.64 C1207.31 275.54 1207.75 276.45 1208.18 277.36 C1208.61 278.27 1209.04 279.18 1209.47 280.09 C1209.90 281.00 1210.32 281.91 1210.74 282.83 C1211.16 283.74 1211.58 284.66 1211.99 285.57 C1212.41 286.49 1212.82 287.41 1213.23 288.32 C1213.64 289.24 1214.04 290.16 1214.44 291.08 C1214.85 292.00 1215.24 292.93 1215.64 293.85 C1216.03 294.77 1216.42 295.70 1216.81 296.62 C1217.20 297.55 1217.58 298.47 1217.96 299.40 C1218.34 300.33 1218.72 301.26 1219.09 302.19 C1219.46 303.12 1219.83 304.05 1220.19 304.98 C1220.55 305.91 1220.91 306.85 1221.27 307.78 C1221.62 308.72 1221.97 309.65 1222.32 310.59 C1222.66 311.53 1223.01 312.46 1223.34 313.40 C1223.68 314.34 1224.01 315.28 1224.34 316.22 C1224.67 317.17 1225.15 318.58 1225.31 319.05" stroke="#000" stroke-width="2.5" stroke-dasharray="8.5 13.5"/>
<path d="M262.23 385.32 C262.46 384.86 263.13 383.46 263.61 382.54 C264.08 381.62 264.57 380.72 265.07 379.82 C265.57 378.93 266.08 378.04 266.61 377.17 C267.14 376.30 267.68 375.44 268.23 374.59 C268.78 373.74 269.35 372.90 269.92 372.08 C270.50 371.25 271.09 370.43 271.69 369.63 C272.29 368.82 272.91 368.03 273.53 367.24 C274.15 366.46 274.79 365.69 275.44 364.93 C276.08 364.16 276.74 363.41 277.41 362.67 C278.08 361.93 278.76 361.21 279.45 360.49 C280.14 359.77 280.84 359.06 281.55 358.36 C282.26 357.67 282.98 356.98 283.71 356.30 C284.44 355.63 285.18 354.96 285.93 354.31 C286.67 353.65 287.43 353.01 288.20 352.37 C288.97 351.74 289.74 351.12 290.52 350.50 C291.31 349.89 292.10 349.29 292.90 348.70 C293.70 348.10 294.51 347.52 295.33 346.95 C296.14 346.38 296.97 345.82 297.80 345.26 C298.63 344.71 299.47 344.17 300.31 343.64 C301.16 343.11 302.01 342.59 302.87 342.08 C303.73 341.56 304.60 341.06 305.47 340.57 C306.34 340.08 307.22 339.60 308.10 339.13 C308.99 338.65 309.88 338.19 310.77 337.74 C311.67 337.29 312.57 336.84 313.47 336.41 C314.38 335.98 315.29 335.55 316.21 335.14 C317.12 334.72 318.05 334.32 318.97 333.92 C319.90 333.52 320.82 333.14 321.76 332.76 C322.69 332.38 323.63 332.01 324.57 331.65 C325.51 331.29 326.46 330.94 327.40 330.59 C328.35 330.25 329.30 329.92 330.26 329.59 C331.21 329.27 332.17 328.95 333.13 328.64 C334.09 328.33 335.05 328.03 336.01 327.74 C336.98 327.44 337.94 327.15 338.91 326.87 C339.88 326.59 340.85 326.32 341.82 326.05 C342.79 325.77 343.77 325.51 344.74 325.25 C345.71 324.98 346.69 324.73 347.66 324.47 C348.64 324.22 349.62 323.96 350.59 323.71 C351.57 323.46 352.54 323.22 353.52 322.97 C354.50 322.72 355.47 322.47 356.45 322.23 C357.43 321.98 358.40 321.73 359.38 321.48 C360.35 321.23 361.32 320.99 362.30 320.73 C363.27 320.48 364.24 320.23 365.21 319.97 C366.18 319.71 367.15 319.46 368.11 319.19 C369.08 318.93 370.04 318.66 371.01 318.39 C371.97 318.11 372.93 317.83 373.88 317.55 C374.84 317.26 375.80 316.97 376.75 316.68 C377.70 316.38 378.65 316.07 379.59 315.76 C380.54 315.45 381.48 315.13 382.41 314.80 C383.35 314.46 384.28 314.13 385.21 313.78 C386.14 313.43 387.07 313.07 387.99 312.70 C388.91 312.33 389.83 311.95 390.74 311.56 C391.65 311.17 392.56 310.77 393.47 310.37 C394.37 309.96 395.27 309.54 396.17 309.12 C397.07 308.70 397.96 308.26 398.85 307.82 C399.74 307.38 400.63 306.93 401.51 306.47 C402.39 306.01 403.27 305.55 404.15 305.07 C405.02 304.60 405.90 304.12 406.77 303.63 C407.63 303.14 408.50 302.65 409.36 302.15 C410.22 301.64 411.08 301.14 411.94 300.62 C412.79 300.10 413.65 299.58 414.50 299.05 C415.35 298.53 416.19 297.99 417.03 297.45 C417.88 296.91 418.72 296.36 419.56 295.81 C420.39 295.26 421.23 294.70 422.06 294.14 C422.89 293.58 423.72 293.01 424.55 292.44 C425.37 291.87 426.20 291.29 427.02 290.71 C427.84 290.13 428.66 289.55 429.47 288.96 C430.29 288.37 431.10 287.77 431.91 287.18 C432.72 286.58 433.53 285.98 434.34 285.37 C435.14 284.77 435.95 284.16 436.75 283.55 C437.55 282.94 438.35 282.33 439.15 281.71 C439.95 281.10 440.74 280.48 441.53 279.86 C442.33 279.24 443.12 278.61 443.91 277.99 C444.70 277.36 445.48 276.73 446.27 276.10 C447.06 275.47 447.84 274.84 448.62 274.21 C449.40 273.57 450.18 272.94 450.96 272.30 C451.74 271.66 452.52 271.02 453.29 270.38 C454.07 269.74 454.84 269.09 455.62 268.45 C456.39 267.80 457.16 267.16 457.93 266.51 C458.70 265.86 459.47 265.21 460.24 264.56 C461.00 263.91 461.77 263.26 462.54 262.61 C463.30 261.95 464.06 261.30 464.83 260.64 C465.59 259.99 466.35 259.33 467.11 258.67 C467.87 258.01 468.63 257.35 469.39 256.70 C470.15 256.04 470.91 255.38 471.67 254.71 C472.43 254.05 473.18 253.39 473.94 252.73 C474.70 252.07 475.45 251.40 476.21 250.74 C476.96 250.08 477.72 249.41 478.47 248.75 C479.23 248.09 479.98 247.42 480.73 246.76 C481.49 246.09 482.24 245.43 482.99 244.77 C483.75 244.10 484.50 243.44 485.25 242.77 C486.00 242.11 486.76 241.44 487.51 240.78 C488.26 240.11 489.01 239.45 489.76 238.79 C490.52 238.12 491.27 237.46 492.02 236.80 C492.77 236.13 493.52 235.47 494.28 234.81 C495.03 234.14 495.78 233.48 496.53 232.82 C497.28 232.15 498.04 231.49 498.79 230.83 C499.54 230.17 500.29 229.51 501.04 228.84 C501.80 228.18 502.55 227.52 503.30 226.86 C504.05 226.20 504.81 225.54 505.56 224.88 C506.31 224.22 507.06 223.56 507.82 222.90 C508.57 222.24 509.32 221.58 510.08 220.92 C510.83 220.26 511.58 219.60 512.34 218.95 C513.09 218.29 513.84 217.63 514.60 216.97 C515.35 216.32 516.11 215.66 516.86 215.00 C517.61 214.35 518.37 213.69 519.13 213.04 C519.88 212.38 520.64 211.73 521.39 211.07 C522.15 210.42 522.90 209.76 523.66 209.11 C524.42 208.46 525.17 207.80 525.93 207.15 C526.69 206.50 527.45 205.85 528.21 205.20 C528.96 204.55 529.72 203.90 530.48 203.25 C531.24 202.60 532.00 201.95 532.76 201.30 C533.52 200.65 534.28 200.00 535.04 199.35 C535.80 198.71 536.57 198.06 537.33 197.41 C538.09 196.77 538.85 196.12 539.62 195.48 C540.38 194.83 541.14 194.19 541.91 193.55 C542.67 192.90 543.44 192.26 544.20 191.62 C544.97 190.98 545.74 190.34 546.50 189.70 C547.27 189.06 548.04 188.42 548.81 187.78 C549.58 187.14 550.35 186.50 551.12 185.87 C551.89 185.23 552.66 184.59 553.43 183.96 C554.20 183.32 554.97 182.69 555.75 182.05 C556.52 181.42 557.29 180.79 558.07 180.16 C558.84 179.53 559.62 178.89 560.39 178.26 C561.17 177.63 561.95 177.01 562.73 176.38 C563.50 175.75 564.28 175.12 565.06 174.50 C565.84 173.87 566.62 173.25 567.41 172.62 C568.19 172.00 568.97 171.37 569.75 170.75 C570.54 170.13 571.32 169.51 572.11 168.89 C572.90 168.27 573.68 167.65 574.47 167.03 C575.26 166.42 576.05 165.80 576.84 165.18 C577.63 164.57 578.42 163.95 579.21 163.34 C580.00 162.73 580.80 162.11 581.59 161.50 C582.38 160.89 583.18 160.28 583.98 159.67 C584.77 159.06 585.57 158.46 586.37 157.85 C587.17 157.24 587.97 156.64 588.77 156.03 C589.57 155.43 590.37 154.83 591.18 154.23 C591.98 153.62 592.79 153.02 593.59 152.43 C594.40 151.83 595.21 151.23 596.02 150.63 C596.83 150.04 597.64 149.44 598.45 148.85 C599.26 148.25 600.07 147.66 600.89 147.07 C601.70 146.48 602.52 145.89 603.33 145.30 C604.15 144.71 604.97 144.13 605.79 143.54 C606.61 142.96 607.43 142.37 608.25 141.79 C609.08 141.21 609.90 140.63 610.73 140.05 C611.55 139.47 612.38 138.90 613.21 138.32 C614.04 137.75 614.87 137.18 615.70 136.61 C616.53 136.04 617.36 135.47 618.20 134.91 C619.03 134.34 619.87 133.78 620.70 133.22 C621.54 132.66 622.38 132.10 623.22 131.54 C624.06 130.99 624.90 130.43 625.74 129.88 C626.59 129.33 627.43 128.78 628.28 128.24 C629.13 127.69 629.97 127.15 630.82 126.61 C631.67 126.07 632.52 125.54 633.38 125.00 C634.23 124.47 635.08 123.94 635.94 123.41 C636.79 122.88 637.65 122.36 638.51 121.84 C639.37 121.32 640.23 120.80 641.09 120.29 C641.96 119.77 642.82 119.26 643.68 118.75 C644.55 118.25 645.42 117.74 646.29 117.24 C647.16 116.74 648.03 116.25 648.90 115.76 C649.77 115.26 650.64 114.77 651.52 114.29 C652.40 113.80 653.27 113.32 654.15 112.85 C655.03 112.37 655.91 111.90 656.79 111.43 C657.68 110.96 658.56 110.50 659.45 110.04 C660.33 109.58 661.22 109.12 662.11 108.67 C663.00 108.22 663.89 107.77 664.78 107.33 C665.68 106.89 666.57 106.45 667.47 106.01 C668.36 105.58 669.26 105.15 670.16 104.73 C671.06 104.31 671.97 103.89 672.87 103.47 C673.77 103.06 674.68 102.65 675.59 102.24 C676.49 101.84 677.40 101.44 678.31 101.04 C679.22 100.64 680.13 100.25 681.05 99.86 C681.96 99.46 682.88 99.08 683.79 98.69 C684.71 98.31 685.63 97.93 686.55 97.55 C687.47 97.17 688.39 96.80 689.31 96.43 C690.24 96.05 691.16 95.68 692.09 95.32 C693.01 94.95 693.94 94.58 694.87 94.22 C695.79 93.86 696.72 93.49 697.65 93.13 C698.59 92.77 699.52 92.42 700.45 92.06 C701.38 91.70 702.32 91.34 703.25 90.99 C704.19 90.63 705.13 90.28 706.06 89.93 C707.00 89.57 707.94 89.22 708.88 88.86 C709.82 88.51 710.76 88.16 711.70 87.81 C712.64 87.45 713.58 87.10 714.53 86.75 C715.47 86.40 716.42 86.05 717.36 85.70 C718.31 85.35 719.25 85.00 720.20 84.65 C721.15 84.30 722.10 83.96 723.05 83.61 C724.00 83.27 724.95 82.92 725.90 82.58 C726.85 82.24 727.80 81.90 728.75 81.56 C729.71 81.23 730.66 80.89 731.61 80.56 C732.57 80.22 733.52 79.89 734.48 79.57 C735.44 79.24 736.39 78.91 737.35 78.59 C738.31 78.27 739.27 77.95 740.23 77.64 C741.19 77.32 742.15 77.01 743.11 76.70 C744.07 76.39 745.03 76.09 745.99 75.78 C746.95 75.48 747.92 75.19 748.88 74.89 C749.85 74.60 750.81 74.31 751.78 74.03 C752.74 73.75 753.71 73.47 754.68 73.19 C755.64 72.92 756.61 72.65 757.58 72.38 C758.55 72.12 759.52 71.86 760.48 71.60 C761.45 71.35 762.42 71.10 763.40 70.86 C764.37 70.62 765.34 70.38 766.31 70.15 C767.28 69.92 768.26 69.69 769.23 69.48 C770.20 69.26 771.18 69.05 772.15 68.84 C773.13 68.63 774.10 68.43 775.08 68.24 C776.05 68.04 777.03 67.85 778.01 67.66 C778.98 67.47 779.96 67.28 780.94 67.10 C781.92 66.91 782.90 66.73 783.87 66.55 C784.85 66.37 785.83 66.19 786.81 66.00 C787.79 65.82 788.77 65.64 789.76 65.45 C790.74 65.27 791.72 65.08 792.70 64.89 C793.68 64.70 794.66 64.51 795.65 64.31 C796.63 64.11 797.61 63.91 798.60 63.70 C799.58 63.49 800.57 63.28 801.55 63.06 C802.53 62.84 803.51 62.52 804.51 62.38 C805.50 62.23 806.50 62.21 807.50 62.19 C808.50 62.16 809.50 62.21 810.50 62.22 C811.50 62.22 812.50 62.23 813.50 62.22 C814.50 62.22 815.50 62.21 816.51 62.20 C817.51 62.19 818.51 62.17 819.51 62.16 C820.51 62.14 821.51 62.11 822.52 62.09 C823.52 62.07 824.52 62.04 825.52 62.01 C826.53 61.98 827.53 61.94 828.53 61.91 C829.54 61.87 830.54 61.84 831.54 61.80 C832.55 61.76 833.55 61.72 834.56 61.68 C835.56 61.64 836.56 61.59 837.57 61.55 C838.57 61.51 839.58 61.46 840.58 61.42 C841.58 61.38 842.59 61.33 843.59 61.29 C844.60 61.24 845.60 61.20 846.61 61.16 C847.61 61.12 848.62 61.07 849.62 61.03 C850.63 60.99 851.63 60.95 852.63 60.92 C853.64 60.88 854.64 60.84 855.65 60.81 C856.65 60.77 857.66 60.74 858.66 60.71 C859.67 60.68 860.67 60.66 861.67 60.63 C862.68 60.61 863.68 60.59 864.69 60.57 C865.69 60.55 866.69 60.54 867.70 60.53 C868.70 60.52 869.71 60.52 870.71 60.52 C871.71 60.51 872.72 60.52 873.72 60.53 C874.72 60.54 875.72 60.55 876.73 60.57 C877.73 60.59 878.73 60.61 879.73 60.64 C880.74 60.67 881.74 60.71 882.74 60.75 C883.74 60.79 884.74 60.84 885.74 60.89 C886.74 60.95 887.75 61.01 888.75 61.08 C889.75 61.14 890.75 61.22 891.75 61.30 C892.75 61.37 893.75 61.46 894.74 61.54 C895.74 61.63 896.74 61.72 897.74 61.82 C898.74 61.91 899.74 62.01 900.73 62.11 C901.73 62.21 902.73 62.32 903.72 62.42 C904.72 62.53 905.72 62.63 906.71 62.74 C907.71 62.85 908.70 62.96 909.70 63.07 C910.69 63.18 911.69 63.29 912.68 63.40 C913.67 63.51 914.67 63.62 915.66 63.73 C916.65 63.83 917.64 63.94 918.63 64.04 C919.62 64.15 920.62 64.25 921.61 64.35 C922.60 64.45 923.58 64.55 924.57 64.64 C925.56 64.73 926.55 64.82 927.54 64.91 C928.53 65.00 929.51 65.08 930.50 65.16 C931.48 65.25 932.47 65.33 933.45 65.43 C934.44 65.53 935.42 65.63 936.41 65.75 C937.39 65.86 938.37 65.99 939.35 66.14 C940.34 66.29 941.32 66.46 942.30 66.65 C943.28 66.83 944.26 67.04 945.24 67.27 C946.21 67.50 947.19 67.75 948.17 68.01 C949.15 68.28 950.12 68.57 951.10 68.86 C952.07 69.16 953.05 69.48 954.02 69.80 C954.99 70.12 955.97 70.45 956.94 70.78 C957.91 71.11 958.88 71.46 959.85 71.79 C960.82 72.13 961.79 72.47 962.76 72.80 C963.72 73.13 964.69 73.46 965.66 73.78 C966.62 74.09 967.59 74.40 968.55 74.70 C969.52 75.01 970.48 75.30 971.44 75.59 C972.40 75.88 973.36 76.17 974.32 76.45 C975.28 76.74 976.24 77.02 977.20 77.30 C978.16 77.59 979.11 77.87 980.07 78.15 C981.02 78.44 981.98 78.73 982.93 79.02 C983.88 79.31 984.83 79.60 985.78 79.90 C986.74 80.19 987.68 80.49 988.63 80.79 C989.58 81.09 990.53 81.40 991.47 81.71 C992.42 82.02 993.36 82.33 994.31 82.65 C995.25 82.96 996.19 83.28 997.13 83.61 C998.07 83.93 999.01 84.26 999.95 84.59 C1000.89 84.92 1001.83 85.26 1002.76 85.60 C1003.70 85.94 1004.63 86.29 1005.57 86.64 C1006.50 86.99 1007.43 87.35 1008.36 87.70 C1009.29 88.06 1010.22 88.43 1011.15 88.80 C1012.07 89.17 1013.00 89.54 1013.92 89.92 C1014.85 90.29 1015.77 90.67 1016.69 91.06 C1017.61 91.45 1018.53 91.84 1019.45 92.23 C1020.37 92.63 1021.29 93.02 1022.20 93.43 C1023.12 93.83 1024.03 94.24 1024.95 94.65 C1025.86 95.06 1026.77 95.47 1027.68 95.89 C1028.59 96.31 1029.50 96.74 1030.40 97.16 C1031.31 97.59 1032.21 98.02 1033.12 98.46 C1034.02 98.89 1034.92 99.33 1035.82 99.78 C1036.72 100.22 1037.62 100.67 1038.52 101.12 C1039.41 101.57 1040.31 102.02 1041.20 102.48 C1042.09 102.94 1042.99 103.40 1043.88 103.86 C1044.77 104.33 1045.65 104.80 1046.54 105.27 C1047.43 105.75 1048.31 106.22 1049.19 106.70 C1050.08 107.18 1050.96 107.67 1051.84 108.15 C1052.72 108.64 1053.59 109.13 1054.47 109.63 C1055.34 110.12 1056.22 110.62 1057.09 111.12 C1057.96 111.62 1058.83 112.12 1059.70 112.63 C1060.57 113.14 1061.43 113.65 1062.30 114.16 C1063.16 114.68 1064.03 115.19 1064.89 115.72 C1065.75 116.24 1066.60 116.76 1067.46 117.29 C1068.32 117.81 1069.17 118.34 1070.03 118.88 C1070.88 119.41 1071.73 119.95 1072.58 120.49 C1073.43 121.03 1074.27 121.57 1075.12 122.11 C1075.96 122.66 1076.81 123.21 1077.65 123.76 C1078.49 124.31 1079.33 124.86 1080.16 125.42 C1081.00 125.98 1081.83 126.54 1082.67 127.10 C1083.50 127.67 1084.33 128.23 1085.16 128.80 C1085.99 129.37 1086.81 129.94 1087.64 130.52 C1088.46 131.09 1089.28 131.67 1090.10 132.25 C1090.92 132.83 1091.74 133.41 1092.56 134.00 C1093.37 134.59 1094.19 135.18 1095.00 135.77 C1095.81 136.36 1096.62 136.95 1097.43 137.55 C1098.23 138.15 1099.04 138.75 1099.84 139.35 C1100.64 139.95 1101.44 140.55 1102.24 141.16 C1103.04 141.77 1103.84 142.38 1104.63 142.99 C1105.42 143.60 1106.21 144.22 1107.00 144.84 C1107.79 145.46 1108.58 146.08 1109.36 146.70 C1110.14 147.33 1110.92 147.95 1111.70 148.58 C1112.48 149.21 1113.26 149.85 1114.03 150.48 C1114.80 151.12 1115.57 151.76 1116.33 152.40 C1117.10 153.04 1117.86 153.69 1118.62 154.34 C1119.38 154.99 1120.14 155.64 1120.89 156.30 C1121.64 156.96 1122.39 157.62 1123.14 158.28 C1123.88 158.95 1124.62 159.61 1125.36 160.29 C1126.10 160.96 1126.83 161.63 1127.56 162.31 C1128.29 162.99 1129.02 163.68 1129.74 164.36 C1130.46 165.05 1131.18 165.74 1131.90 166.44 C1132.61 167.14 1133.32 167.84 1134.02 168.54 C1134.73 169.25 1135.43 169.96 1136.12 170.67 C1136.82 171.39 1137.51 172.10 1138.20 172.83 C1138.89 173.55 1139.57 174.28 1140.25 175.01 C1140.92 175.74 1141.60 176.48 1142.27 177.22 C1142.94 177.96 1143.60 178.70 1144.26 179.45 C1144.92 180.20 1145.58 180.95 1146.23 181.70 C1146.89 182.46 1147.54 183.22 1148.18 183.98 C1148.83 184.74 1149.47 185.51 1150.11 186.28 C1150.75 187.05 1151.38 187.82 1152.01 188.60 C1152.64 189.38 1153.27 190.16 1153.90 190.94 C1154.52 191.73 1155.14 192.51 1155.76 193.30 C1156.38 194.09 1156.99 194.88 1157.60 195.68 C1158.21 196.48 1158.82 197.27 1159.42 198.08 C1160.03 198.88 1160.63 199.68 1161.23 200.49 C1161.83 201.29 1162.43 202.10 1163.02 202.92 C1163.61 203.73 1164.20 204.54 1164.79 205.36 C1165.38 206.18 1165.97 206.99 1166.55 207.82 C1167.13 208.64 1167.72 209.46 1168.29 210.28 C1168.87 211.11 1169.45 211.94 1170.02 212.77 C1170.60 213.60 1171.17 214.43 1171.74 215.26 C1172.31 216.09 1172.87 216.93 1173.44 217.76 C1174.00 218.60 1174.56 219.44 1175.12 220.28 C1175.68 221.12 1176.24 221.96 1176.80 222.80 C1177.35 223.64 1177.90 224.48 1178.45 225.33 C1179.00 226.17 1179.55 227.02 1180.10 227.86 C1180.64 228.71 1181.19 229.56 1181.73 230.41 C1182.27 231.26 1182.81 232.11 1183.35 232.96 C1183.88 233.81 1184.42 234.66 1184.95 235.51 C1185.48 236.37 1186.01 237.22 1186.53 238.08 C1187.06 238.94 1187.58 239.79 1188.10 240.65 C1188.62 241.51 1189.13 242.37 1189.65 243.23 C1190.16 244.10 1190.67 244.96 1191.18 245.82 C1191.68 246.69 1192.19 247.56 1192.69 248.42 C1193.19 249.29 1193.68 250.16 1194.18 251.03 C1194.67 251.90 1195.16 252.78 1195.64 253.65 C1196.13 254.53 1196.61 255.40 1197.09 256.28 C1197.57 257.16 1198.04 258.04 1198.51 258.92 C1198.98 259.80 1199.45 260.69 1199.91 261.57 C1200.37 262.46 1200.83 263.35 1201.28 264.24 C1201.73 265.13 1202.18 266.02 1202.62 266.91 C1203.07 267.80 1203.51 268.70 1203.94 269.60 C1204.38 270.50 1204.81 271.40 1205.24 272.30 C1205.66 273.20 1206.08 274.11 1206.50 275.01 C1206.91 275.92 1207.33 276.83 1207.73 277.74 C1208.14 278.65 1208.54 279.56 1208.93 280.48 C1209.33 281.40 1209.72 282.31 1210.11 283.24 C1210.49 284.16 1210.87 285.08 1211.25 286.01 C1211.62 286.93 1211.99 287.86 1212.35 288.79 C1212.71 289.72 1213.07 290.66 1213.42 291.59 C1213.77 292.53 1214.12 293.47 1214.46 294.41 C1214.79 295.35 1215.13 296.30 1215.45 297.24 C1215.78 298.19 1216.10 299.14 1216.41 300.09 C1216.72 301.05 1217.02 302.00 1217.32 302.96 C1217.61 303.92 1217.90 304.88 1218.19 305.85 C1218.47 306.81 1218.74 307.78 1219.01 308.75 C1219.27 309.72 1219.53 310.69 1219.78 311.67 C1220.03 312.65 1220.27 313.63 1220.50 314.61 C1220.74 315.59 1220.96 316.58 1221.17 317.57 C1221.39 318.56 1221.59 319.55 1221.79 320.55 C1221.99 321.55 1222.26 323.05 1222.35 323.55" stroke="#000" stroke-width="2.4"/>
</g>
<!-- main axes -->
<g stroke="#333" stroke-width="2.9" fill="none">
<line x1="129.7" y1="15.75" x2="129.7" y2="385.3"/>
<line x1="128.25" y1="385.3" x2="1255.95" y2="385.3"/>
<line x1="119.2" y1="385.30" x2="129.7" y2="385.30"/>
<line x1="119.2" y1="201.25" x2="129.7" y2="201.25"/>
<line x1="119.2" y1="17.20" x2="129.7" y2="17.20"/>
<line x1="124.2" y1="293.27" x2="129.7" y2="293.27"/>
<line x1="124.2" y1="109.22" x2="129.7" y2="109.22"/>
<line x1="129.70" y1="385.3" x2="129.70" y2="395.5"/>
<line x1="504.65" y1="385.3" x2="504.65" y2="395.5"/>
<line x1="879.60" y1="385.3" x2="879.60" y2="395.5"/>
<line x1="1254.55" y1="385.3" x2="1254.55" y2="395.5"/>
<line x1="317.17" y1="385.3" x2="317.17" y2="390.5"/>
<line x1="692.12" y1="385.3" x2="692.12" y2="390.5"/>
<line x1="1067.08" y1="385.3" x2="1067.08" y2="390.5"/>
</g>
<!-- inset -->
<rect x="204.0" y="34.2" width="299.5" height="144.2" fill="#b9b9b9"/>
<g fill="none" clip-path="url(#ic)" stroke-linejoin="round">
<path d="M241.63 178.64 C241.97 178.26 242.99 177.13 243.67 176.39 C244.36 175.65 245.05 174.91 245.74 174.18 C246.44 173.44 247.14 172.71 247.85 171.99 C248.55 171.27 249.26 170.55 249.98 169.83 C250.69 169.12 251.41 168.41 252.14 167.71 C252.86 167.01 253.59 166.31 254.33 165.61 C255.06 164.92 255.80 164.23 256.54 163.55 C257.28 162.87 258.03 162.19 258.78 161.52 C259.53 160.84 260.29 160.18 261.05 159.51 C261.81 158.85 262.58 158.20 263.34 157.54 C264.11 156.89 264.88 156.25 265.66 155.60 C266.44 154.96 267.22 154.33 268.00 153.70 C268.79 153.07 269.57 152.44 270.37 151.82 C271.16 151.20 271.95 150.59 272.75 149.98 C273.55 149.37 274.35 148.76 275.16 148.16 C275.97 147.56 276.77 146.97 277.59 146.38 C278.40 145.80 279.22 145.21 280.04 144.64 C280.86 144.06 281.68 143.49 282.51 142.92 C283.33 142.35 284.16 141.79 284.99 141.24 C285.82 140.68 286.66 140.13 287.50 139.58 C288.34 139.03 289.18 138.49 290.02 137.96 C290.86 137.42 291.71 136.89 292.56 136.36 C293.41 135.83 294.26 135.31 295.11 134.79 C295.97 134.27 296.83 133.76 297.69 133.24 C298.54 132.73 299.41 132.23 300.27 131.73 C301.13 131.22 302.00 130.73 302.87 130.23 C303.74 129.74 304.61 129.25 305.48 128.76 C306.35 128.27 307.23 127.79 308.11 127.31 C308.98 126.83 309.86 126.35 310.74 125.88 C311.62 125.41 312.51 124.94 313.39 124.47 C314.27 124.01 315.16 123.54 316.05 123.08 C316.94 122.62 317.82 122.17 318.72 121.71 C319.61 121.26 320.50 120.81 321.39 120.36 C322.29 119.91 323.18 119.46 324.08 119.02 C324.97 118.58 325.87 118.13 326.77 117.70 C327.67 117.26 328.57 116.82 329.47 116.39 C330.37 115.95 331.27 115.52 332.17 115.09 C333.08 114.66 333.98 114.23 334.88 113.81 C335.79 113.38 336.69 112.96 337.60 112.53 C338.51 112.11 339.41 111.69 340.32 111.27 C341.23 110.85 342.13 110.43 343.04 110.02 C343.95 109.60 344.86 109.18 345.77 108.77 C346.68 108.36 347.59 107.94 348.50 107.53 C349.41 107.12 350.32 106.71 351.23 106.30 C352.14 105.89 353.06 105.49 353.97 105.08 C354.88 104.67 355.79 104.27 356.71 103.86 C357.62 103.46 358.54 103.05 359.45 102.65 C360.37 102.25 361.28 101.85 362.20 101.45 C363.11 101.05 364.03 100.65 364.95 100.25 C365.86 99.85 366.78 99.45 367.70 99.05 C368.62 98.66 369.54 98.26 370.45 97.86 C371.37 97.47 372.29 97.07 373.21 96.68 C374.13 96.28 375.05 95.89 375.98 95.49 C376.90 95.10 377.82 94.70 378.74 94.31 C379.66 93.92 380.59 93.53 381.51 93.13 C382.43 92.74 383.36 92.35 384.28 91.96 C385.21 91.57 386.13 91.17 387.06 90.78 C387.98 90.39 388.91 90.00 389.83 89.61 C390.76 89.22 391.69 88.83 392.62 88.43 C393.54 88.04 394.47 87.65 395.40 87.26 C396.33 86.87 397.26 86.48 398.19 86.09 C399.12 85.70 400.05 85.30 400.98 84.91 C401.91 84.52 402.84 84.13 403.77 83.74 C404.70 83.35 405.64 82.96 406.57 82.57 C407.50 82.18 408.43 81.80 409.37 81.41 C410.30 81.02 411.24 80.63 412.17 80.25 C413.10 79.86 414.04 79.47 414.98 79.09 C415.91 78.70 416.85 78.32 417.78 77.94 C418.72 77.56 419.66 77.17 420.60 76.79 C421.53 76.41 422.47 76.03 423.41 75.66 C424.35 75.28 425.29 74.90 426.23 74.53 C427.17 74.16 428.11 73.78 429.05 73.41 C429.99 73.04 430.93 72.67 431.87 72.30 C432.81 71.93 433.75 71.57 434.70 71.21 C435.64 70.84 436.58 70.48 437.53 70.12 C438.47 69.76 439.41 69.40 440.36 69.05 C441.30 68.69 442.25 68.34 443.19 67.99 C444.14 67.64 445.08 67.29 446.03 66.94 C446.98 66.60 447.92 66.26 448.87 65.91 C449.82 65.57 450.77 65.24 451.71 64.90 C452.66 64.57 453.61 64.24 454.56 63.91 C455.51 63.58 456.46 63.25 457.41 62.93 C458.36 62.61 459.31 62.29 460.26 61.97 C461.21 61.65 462.16 61.34 463.12 61.03 C464.07 60.72 465.02 60.42 465.97 60.11 C466.93 59.81 467.88 59.51 468.83 59.21 C469.79 58.91 470.74 58.62 471.70 58.32 C472.65 58.03 473.61 57.74 474.56 57.45 C475.52 57.17 476.47 56.88 477.43 56.60 C478.39 56.31 479.34 56.03 480.30 55.75 C481.26 55.48 482.22 55.20 483.17 54.92 C484.13 54.65 485.09 54.38 486.05 54.10 C487.01 53.83 487.97 53.56 488.93 53.29 C489.89 53.02 490.85 52.76 491.81 52.49 C492.77 52.23 493.73 51.96 494.70 51.70 C495.66 51.43 496.62 51.17 497.58 50.91 C498.54 50.65 499.51 50.39 500.47 50.13 C501.44 49.87 502.40 49.61 503.36 49.35 C504.33 49.09 505.29 48.83 506.26 48.57 C507.22 48.31 508.19 48.05 509.16 47.80 C510.12 47.54 511.09 47.28 512.06 47.02 C513.02 46.76 513.99 46.51 514.96 46.25 C515.93 45.99 516.89 45.73 517.86 45.47 C518.83 45.21 519.80 44.95 520.77 44.69 C521.74 44.44 522.71 44.18 523.68 43.92 C524.65 43.66 525.62 43.40 526.59 43.14 C527.56 42.88 528.53 42.63 529.51 42.37 C530.48 42.11 531.45 41.86 532.42 41.60 C533.40 41.35 534.37 41.09 535.34 40.84 C536.32 40.58 537.29 40.33 538.26 40.08 C539.24 39.83 540.21 39.57 541.19 39.32 C542.16 39.08 543.14 38.83 544.12 38.58 C545.09 38.33 546.07 38.09 547.05 37.84 C548.02 37.60 549.00 37.36 549.98 37.12 C550.95 36.88 551.93 36.64 552.91 36.40 C553.89 36.17 554.87 35.93 555.85 35.70 C556.83 35.47 557.81 35.24 558.79 35.01 C559.77 34.78 560.75 34.56 561.73 34.34 C562.71 34.11 563.69 33.89 564.67 33.67 C565.65 33.46 566.63 33.24 567.62 33.03 C568.60 32.82 569.58 32.61 570.56 32.40 C571.55 32.20 572.53 31.99 573.51 31.79 C574.50 31.59 575.48 31.40 576.47 31.20 C577.45 31.01 578.44 30.82 579.42 30.63 C580.41 30.45 581.39 30.27 582.38 30.09 C583.36 29.91 584.35 29.73 585.34 29.56 C586.32 29.39 587.31 29.22 588.30 29.06 C589.29 28.90 590.27 28.74 591.26 28.58 C592.25 28.43 593.24 28.28 594.23 28.13 C595.22 27.98 596.21 27.84 597.20 27.71 C598.19 27.57 599.67 27.37 600.17 27.31" stroke="#ee1c25" stroke-width="2.3" stroke-dasharray="9.5 6 2 6.4"/>
<path d="M233.42 178.43 C233.77 178.05 234.81 176.88 235.51 176.12 C236.21 175.36 236.91 174.60 237.61 173.85 C238.31 173.09 239.02 172.35 239.73 171.61 C240.44 170.87 241.16 170.14 241.87 169.41 C242.59 168.68 243.31 167.96 244.03 167.25 C244.75 166.53 245.48 165.82 246.20 165.12 C246.93 164.42 247.66 163.72 248.40 163.02 C249.13 162.33 249.87 161.64 250.61 160.96 C251.35 160.28 252.09 159.60 252.83 158.93 C253.58 158.25 254.32 157.59 255.08 156.92 C255.83 156.26 256.58 155.60 257.33 154.95 C258.09 154.29 258.85 153.64 259.61 153.00 C260.37 152.35 261.13 151.71 261.90 151.07 C262.67 150.43 263.43 149.80 264.21 149.17 C264.98 148.54 265.75 147.91 266.53 147.29 C267.30 146.67 268.08 146.05 268.86 145.43 C269.65 144.82 270.43 144.20 271.22 143.59 C272.00 142.98 272.79 142.38 273.58 141.77 C274.37 141.17 275.17 140.57 275.96 139.97 C276.76 139.37 277.55 138.78 278.35 138.18 C279.16 137.59 279.96 137.00 280.76 136.41 C281.57 135.82 282.37 135.24 283.18 134.65 C283.99 134.07 284.80 133.49 285.62 132.91 C286.43 132.33 287.25 131.75 288.06 131.18 C288.88 130.60 289.70 130.03 290.52 129.46 C291.35 128.89 292.17 128.33 293.00 127.76 C293.82 127.20 294.65 126.63 295.48 126.07 C296.31 125.51 297.15 124.96 297.98 124.40 C298.81 123.85 299.65 123.29 300.49 122.74 C301.33 122.19 302.17 121.64 303.01 121.10 C303.85 120.55 304.70 120.01 305.54 119.47 C306.39 118.93 307.24 118.39 308.09 117.86 C308.94 117.32 309.79 116.79 310.64 116.26 C311.50 115.73 312.35 115.20 313.21 114.67 C314.07 114.15 314.93 113.63 315.79 113.11 C316.65 112.59 317.51 112.07 318.37 111.55 C319.24 111.04 320.10 110.53 320.97 110.01 C321.84 109.50 322.71 109.00 323.58 108.49 C324.45 107.99 325.32 107.48 326.20 106.99 C327.07 106.49 327.95 105.99 328.83 105.49 C329.70 105.00 330.58 104.51 331.46 104.02 C332.34 103.53 333.23 103.04 334.11 102.56 C334.99 102.07 335.88 101.59 336.77 101.11 C337.65 100.63 338.54 100.16 339.43 99.68 C340.32 99.21 341.21 98.74 342.10 98.27 C343.00 97.80 343.89 97.34 344.79 96.87 C345.68 96.41 346.58 95.95 347.48 95.49 C348.37 95.04 349.27 94.58 350.18 94.13 C351.08 93.68 351.98 93.23 352.88 92.78 C353.78 92.34 354.69 91.89 355.60 91.45 C356.50 91.01 357.41 90.57 358.32 90.13 C359.23 89.70 360.14 89.27 361.05 88.84 C361.96 88.41 362.87 87.98 363.78 87.55 C364.69 87.13 365.61 86.71 366.52 86.29 C367.44 85.87 368.36 85.45 369.27 85.04 C370.19 84.63 371.11 84.22 372.03 83.81 C372.95 83.40 373.87 83.00 374.79 82.59 C375.71 82.19 376.64 81.79 377.56 81.40 C378.48 81.00 379.41 80.61 380.33 80.22 C381.26 79.83 382.19 79.44 383.11 79.05 C384.04 78.67 384.97 78.28 385.90 77.91 C386.83 77.53 387.76 77.15 388.69 76.77 C389.62 76.40 390.55 76.03 391.49 75.66 C392.42 75.29 393.35 74.92 394.29 74.56 C395.22 74.20 396.16 73.84 397.10 73.48 C398.03 73.12 398.97 72.76 399.91 72.41 C400.85 72.05 401.79 71.70 402.73 71.35 C403.67 71.00 404.61 70.66 405.55 70.31 C406.49 69.97 407.43 69.63 408.38 69.29 C409.32 68.95 410.26 68.61 411.21 68.28 C412.15 67.94 413.10 67.61 414.05 67.28 C414.99 66.95 415.94 66.62 416.89 66.30 C417.84 65.97 418.79 65.65 419.74 65.32 C420.68 65.00 421.64 64.68 422.59 64.36 C423.54 64.05 424.49 63.73 425.44 63.42 C426.39 63.11 427.35 62.79 428.30 62.48 C429.26 62.18 430.21 61.87 431.17 61.56 C432.12 61.26 433.08 60.95 434.03 60.65 C434.99 60.35 435.95 60.05 436.91 59.75 C437.86 59.45 438.82 59.16 439.78 58.86 C440.74 58.57 441.70 58.28 442.66 57.99 C443.62 57.70 444.58 57.41 445.55 57.12 C446.51 56.83 447.47 56.55 448.43 56.26 C449.40 55.98 450.36 55.69 451.33 55.41 C452.29 55.13 453.26 54.85 454.22 54.58 C455.19 54.30 456.15 54.02 457.12 53.75 C458.09 53.47 459.05 53.20 460.02 52.93 C460.99 52.66 461.96 52.39 462.93 52.12 C463.89 51.85 464.86 51.58 465.83 51.31 C466.80 51.05 467.77 50.78 468.75 50.52 C469.72 50.25 470.69 49.99 471.66 49.73 C472.63 49.47 473.60 49.21 474.58 48.95 C475.55 48.69 476.52 48.44 477.50 48.18 C478.47 47.92 479.44 47.67 480.42 47.41 C481.39 47.16 482.37 46.91 483.34 46.65 C484.32 46.40 485.30 46.15 486.27 45.90 C487.25 45.65 488.23 45.40 489.20 45.16 C490.18 44.91 491.16 44.67 492.14 44.42 C493.11 44.18 494.09 43.94 495.07 43.70 C496.05 43.47 497.03 43.23 498.01 43.00 C498.99 42.77 499.97 42.54 500.95 42.31 C501.93 42.09 502.91 41.87 503.89 41.65 C504.87 41.43 505.85 41.22 506.83 41.01 C507.82 40.80 508.80 40.60 509.78 40.40 C510.76 40.20 511.74 40.01 512.73 39.82 C513.71 39.63 514.69 39.44 515.67 39.26 C516.66 39.08 517.64 38.90 518.63 38.72 C519.61 38.54 520.59 38.37 521.58 38.20 C522.56 38.03 523.55 37.85 524.53 37.68 C525.52 37.51 526.50 37.34 527.49 37.17 C528.47 37.00 529.46 36.83 530.44 36.66 C531.43 36.49 532.41 36.31 533.40 36.14 C534.38 35.97 535.37 35.80 536.36 35.62 C537.34 35.45 538.33 35.28 539.32 35.10 C540.30 34.93 541.29 34.75 542.28 34.58 C543.26 34.40 544.25 34.22 545.24 34.05 C546.22 33.87 547.21 33.69 548.20 33.52 C549.18 33.34 550.17 33.16 551.16 32.98 C552.15 32.81 553.13 32.63 554.12 32.45 C555.11 32.27 556.10 32.09 557.09 31.91 C558.07 31.73 559.06 31.55 560.05 31.36 C561.04 31.18 562.02 31.00 563.01 30.82 C564.00 30.64 564.99 30.45 565.98 30.27 C566.96 30.09 567.95 29.90 568.94 29.72 C569.93 29.53 570.92 29.35 571.90 29.16 C572.89 28.98 573.88 28.79 574.87 28.60 C575.86 28.42 576.84 28.23 577.83 28.04 C578.82 27.85 579.81 27.67 580.80 27.48 C581.78 27.29 582.77 27.10 583.76 26.91 C584.75 26.72 585.73 26.53 586.72 26.34 C587.71 26.15 588.70 25.95 589.68 25.76 C590.67 25.57 591.66 25.38 592.64 25.18 C593.63 24.99 594.62 24.80 595.61 24.60 C596.59 24.41 597.58 24.21 598.57 24.02 C599.55 23.82 600.54 23.62 601.52 23.43 C602.51 23.23 603.50 23.03 604.48 22.83 C605.47 22.64 606.45 22.44 607.44 22.24 C608.43 22.04 609.41 21.84 610.40 21.64 C611.38 21.44 612.37 21.24 613.35 21.04 C614.34 20.83 615.32 20.63 616.30 20.43 C617.29 20.23 618.76 19.92 619.26 19.82" stroke="#000" stroke-width="2.5" stroke-dasharray="8.5 13.5"/>
<path d="M218.69 178.36 C218.99 177.95 219.86 176.68 220.46 175.85 C221.05 175.02 221.65 174.19 222.26 173.37 C222.86 172.55 223.47 171.74 224.09 170.93 C224.70 170.12 225.32 169.31 225.95 168.52 C226.57 167.72 227.20 166.93 227.84 166.14 C228.48 165.35 229.12 164.57 229.76 163.79 C230.41 163.02 231.06 162.25 231.71 161.48 C232.37 160.72 233.03 159.96 233.69 159.20 C234.36 158.45 235.03 157.70 235.70 156.95 C236.37 156.21 237.05 155.47 237.74 154.74 C238.42 154.00 239.11 153.27 239.80 152.55 C240.49 151.83 241.19 151.11 241.89 150.39 C242.59 149.68 243.30 148.97 244.01 148.27 C244.72 147.57 245.43 146.87 246.15 146.18 C246.87 145.48 247.59 144.79 248.32 144.11 C249.05 143.43 249.78 142.75 250.51 142.08 C251.25 141.40 251.99 140.73 252.73 140.07 C253.47 139.40 254.22 138.75 254.97 138.09 C255.72 137.44 256.48 136.79 257.24 136.14 C257.99 135.50 258.76 134.86 259.52 134.22 C260.29 133.58 261.06 132.95 261.83 132.32 C262.61 131.70 263.38 131.08 264.16 130.46 C264.94 129.84 265.73 129.23 266.52 128.62 C267.30 128.01 268.09 127.40 268.89 126.80 C269.68 126.20 270.48 125.61 271.28 125.02 C272.08 124.42 272.89 123.84 273.70 123.25 C274.50 122.67 275.31 122.09 276.13 121.52 C276.94 120.94 277.76 120.37 278.58 119.81 C279.40 119.24 280.22 118.68 281.05 118.12 C281.87 117.56 282.70 117.01 283.54 116.46 C284.37 115.91 285.20 115.36 286.04 114.82 C286.88 114.28 287.72 113.74 288.56 113.20 C289.40 112.67 290.25 112.14 291.10 111.61 C291.94 111.08 292.80 110.56 293.65 110.04 C294.50 109.52 295.36 109.01 296.22 108.50 C297.07 107.98 297.94 107.48 298.80 106.97 C299.66 106.47 300.53 105.97 301.39 105.47 C302.26 104.97 303.13 104.48 304.00 103.99 C304.88 103.50 305.75 103.01 306.63 102.53 C307.50 102.05 308.38 101.57 309.26 101.09 C310.14 100.61 311.02 100.14 311.91 99.67 C312.79 99.20 313.68 98.74 314.57 98.27 C315.45 97.81 316.34 97.35 317.24 96.89 C318.13 96.44 319.02 95.98 319.92 95.53 C320.81 95.08 321.71 94.64 322.61 94.19 C323.50 93.75 324.40 93.31 325.31 92.87 C326.21 92.43 327.11 92.00 328.01 91.57 C328.92 91.13 329.82 90.71 330.73 90.28 C331.64 89.85 332.55 89.43 333.45 89.01 C334.36 88.59 335.27 88.17 336.19 87.76 C337.10 87.35 338.01 86.93 338.92 86.53 C339.84 86.12 340.75 85.71 341.67 85.31 C342.59 84.90 343.50 84.50 344.42 84.11 C345.34 83.71 346.26 83.31 347.18 82.92 C348.10 82.53 349.02 82.14 349.94 81.75 C350.87 81.36 351.79 80.98 352.71 80.60 C353.64 80.22 354.56 79.84 355.49 79.46 C356.42 79.08 357.35 78.71 358.27 78.34 C359.20 77.97 360.13 77.60 361.06 77.23 C361.99 76.87 362.92 76.50 363.86 76.14 C364.79 75.78 365.72 75.42 366.66 75.07 C367.59 74.71 368.53 74.36 369.46 74.00 C370.40 73.65 371.34 73.30 372.27 72.96 C373.21 72.61 374.15 72.27 375.09 71.93 C376.03 71.59 376.97 71.25 377.91 70.91 C378.85 70.57 379.80 70.24 380.74 69.91 C381.68 69.58 382.63 69.25 383.57 68.92 C384.52 68.59 385.46 68.27 386.41 67.94 C387.35 67.62 388.30 67.30 389.25 66.98 C390.20 66.67 391.15 66.35 392.10 66.04 C393.05 65.72 394.00 65.41 394.95 65.10 C395.90 64.80 396.85 64.49 397.80 64.19 C398.76 63.88 399.71 63.58 400.66 63.28 C401.62 62.98 402.57 62.68 403.53 62.39 C404.48 62.09 405.44 61.80 406.40 61.51 C407.35 61.21 408.31 60.93 409.27 60.64 C410.23 60.35 411.19 60.07 412.15 59.78 C413.11 59.50 414.07 59.22 415.03 58.94 C415.99 58.66 416.95 58.39 417.92 58.11 C418.88 57.84 419.84 57.56 420.80 57.29 C421.77 57.02 422.73 56.76 423.70 56.49 C424.66 56.22 425.63 55.96 426.59 55.70 C427.56 55.43 428.53 55.17 429.49 54.91 C430.46 54.65 431.43 54.40 432.40 54.14 C433.37 53.89 434.33 53.63 435.30 53.38 C436.27 53.13 437.24 52.88 438.21 52.64 C439.18 52.39 440.16 52.14 441.13 51.90 C442.10 51.65 443.07 51.41 444.04 51.17 C445.02 50.93 445.99 50.69 446.96 50.46 C447.94 50.22 448.91 49.98 449.88 49.75 C450.86 49.52 451.83 49.29 452.81 49.05 C453.78 48.82 454.76 48.60 455.74 48.37 C456.71 48.14 457.69 47.92 458.67 47.69 C459.64 47.47 460.62 47.25 461.60 47.02 C462.58 46.80 463.55 46.58 464.53 46.37 C465.51 46.15 466.49 45.93 467.47 45.72 C468.45 45.50 469.43 45.29 470.41 45.07 C471.39 44.86 472.37 44.65 473.35 44.44 C474.33 44.23 475.31 44.02 476.29 43.82 C477.27 43.61 478.26 43.40 479.24 43.20 C480.22 42.99 481.20 42.79 482.18 42.59 C483.17 42.39 484.15 42.19 485.13 41.99 C486.11 41.79 487.10 41.59 488.08 41.39 C489.07 41.19 490.05 41.00 491.03 40.80 C492.02 40.61 493.00 40.41 493.99 40.22 C494.97 40.03 495.95 39.84 496.94 39.65 C497.92 39.45 498.91 39.27 499.89 39.08 C500.88 38.89 501.86 38.70 502.85 38.51 C503.84 38.33 504.82 38.14 505.81 37.95 C506.79 37.77 507.78 37.59 508.76 37.40 C509.75 37.22 510.74 37.04 511.72 36.85 C512.71 36.67 513.70 36.49 514.68 36.31 C515.67 36.13 516.66 35.95 517.64 35.77 C518.63 35.60 519.62 35.42 520.60 35.24 C521.59 35.06 522.58 34.89 523.56 34.71 C524.55 34.54 525.54 34.36 526.52 34.19 C527.51 34.01 528.50 33.84 529.49 33.66 C530.47 33.49 531.46 33.32 532.45 33.15 C533.43 32.97 534.42 32.80 535.41 32.63 C536.39 32.46 537.38 32.29 538.37 32.12 C539.36 31.95 540.34 31.78 541.33 31.61 C542.32 31.44 543.30 31.27 544.29 31.10 C545.28 30.94 546.26 30.77 547.25 30.60 C548.24 30.43 549.22 30.27 550.21 30.10 C551.20 29.93 552.18 29.76 553.17 29.60 C554.15 29.43 555.14 29.27 556.13 29.10 C557.11 28.93 558.10 28.77 559.08 28.60 C560.07 28.44 561.05 28.27 562.04 28.11 C563.03 27.94 564.01 27.78 565.00 27.61 C565.98 27.44 566.97 27.28 567.95 27.12 C568.93 26.95 569.92 26.79 570.90 26.62 C571.89 26.46 572.87 26.29 573.85 26.13 C574.84 25.96 575.82 25.80 576.81 25.63 C577.79 25.47 578.77 25.30 579.75 25.14 C580.74 24.97 581.72 24.81 582.70 24.64 C583.68 24.48 584.67 24.31 585.65 24.15 C586.63 23.98 587.61 23.81 588.59 23.65 C589.57 23.48 590.55 23.32 591.53 23.15 C592.51 22.98 593.49 22.82 594.47 22.65 C595.45 22.48 596.43 22.32 597.41 22.15 C598.39 21.98 599.37 21.81 600.35 21.64 C601.32 21.48 602.30 21.31 603.28 21.14 C604.26 20.97 605.23 20.80 606.21 20.63 C607.19 20.46 608.16 20.29 609.14 20.12 C610.11 19.95 611.09 19.78 612.07 19.61 C613.04 19.43 614.01 19.26 614.99 19.09 C615.96 18.91 616.94 18.74 617.91 18.57 C618.88 18.39 620.34 18.13 620.83 18.04" stroke="#000" stroke-width="2.4"/>
</g>
<rect x="204.0" y="34.2" width="299.5" height="144.2" fill="none" stroke="#282828" stroke-width="2.1"/>
<g stroke="#282828" stroke-width="2.1">
<line x1="193.5" y1="178.50" x2="204.0" y2="178.50"/>
<line x1="193.5" y1="92.10" x2="204.0" y2="92.10"/>
<line x1="198.5" y1="135.30" x2="204.0" y2="135.30"/>
<line x1="198.5" y1="48.90" x2="204.0" y2="48.90"/>
<line x1="279.40" y1="178.4" x2="279.40" y2="188.4"/>
<line x1="411.70" y1="178.4" x2="411.70" y2="188.4"/>
<line x1="213.25" y1="178.4" x2="213.25" y2="183.7"/>
<line x1="345.55" y1="178.4" x2="345.55" y2="183.7"/>
<line x1="477.85" y1="178.4" x2="477.85" y2="183.7"/>
</g>
<!-- tick labels -->
<g style="font-family:'Liberation Sans',sans-serif;stroke:#000;stroke-width:0.35px" fill="#000" font-size="31px">
<text x="111.6" y="27.1" text-anchor="end" textLength="60.5" lengthAdjust="spacingAndGlyphs">0.50</text>
<text x="111.6" y="211.2" text-anchor="end" textLength="60.5" lengthAdjust="spacingAndGlyphs">0.25</text>
<text x="111.6" y="394.8" text-anchor="end" textLength="60.5" lengthAdjust="spacingAndGlyphs">0.00</text>
<text x="129.7" y="427.8" text-anchor="middle" font-size="31px">0.0</text>
<text x="504.6" y="427.8" text-anchor="middle" font-size="31px">0.5</text>
<text x="879.6" y="427.8" text-anchor="middle" font-size="31px">1.0</text>
<text x="1254.5" y="427.8" text-anchor="middle" font-size="31px">1.5</text>
</g>
<g style="font-family:'Liberation Sans',sans-serif;stroke:#000;stroke-width:0.35px" fill="#000" font-size="26px">
<text x="186.6" y="185.8" text-anchor="end">0.00</text>
<text x="186.6" y="100.2" text-anchor="end">0.05</text>
<text x="279.4" y="211.8" text-anchor="middle">0.20</text>
<text x="411.7" y="211.8" text-anchor="middle">0.25</text>
</g>
<!-- axis titles -->
<g style="font-family:'Liberation Sans',sans-serif;stroke:#000;stroke-width:0.35px" font-size="37px" fill="#000">
<text x="609.0" y="452.9">Z'</text>
<text x="649.3" y="452.9">(&#937;.cm</text>
<text x="746.2" y="437.6" font-size="24px">2</text>
<text x="763.4" y="452.9">)</text>
</g>
<g style="font-family:'Liberation Sans',sans-serif;stroke:#000;stroke-width:0.35px" font-size="37px" fill="#000" transform="translate(36.6 0) rotate(-90)">
<text x="-288.7" y="0">Z</text>
<text x="-265.5" y="0">'</text>
<text x="-258.0" y="0">'</text>
<text x="-242.9" y="0">(&#937;.cm</text>
<text x="-145.6" y="-15" font-size="24px">2</text>
<text x="-130.4" y="0">)</text>
</g>
<!-- legend -->
<rect x="916.5" y="234.1" width="246.3" height="120.3" fill="#fff" stroke="#333" stroke-width="2.3"/>
<line x1="921" y1="256.5" x2="995.3" y2="256.5" stroke="#000" stroke-width="2.2"/>
<line x1="921" y1="296.4" x2="995.3" y2="296.4" stroke="#000" stroke-width="2.5" stroke-dasharray="8.5 13.5"/>
<line x1="921" y1="336.5" x2="995.3" y2="336.5" stroke="#ee1c25" stroke-width="2.3" stroke-dasharray="9.5 6 2 6.4"/>
<g style="font-family:'Liberation Sans',sans-serif;stroke:#000;stroke-width:0.35px" fill="#000" font-size="30.5px">
<text x="1005.5" y="266.7" textLength="111" lengthAdjust="spacingAndGlyphs">LT800 i</text>
<text x="1005.5" y="306.0" textLength="160.5" lengthAdjust="spacingAndGlyphs">LT800 18h</text>
<text x="1005.5" y="345.6" textLength="160.5" lengthAdjust="spacingAndGlyphs">LT800 84h</text>
</g>
</g>
</svg>
</body></html>
